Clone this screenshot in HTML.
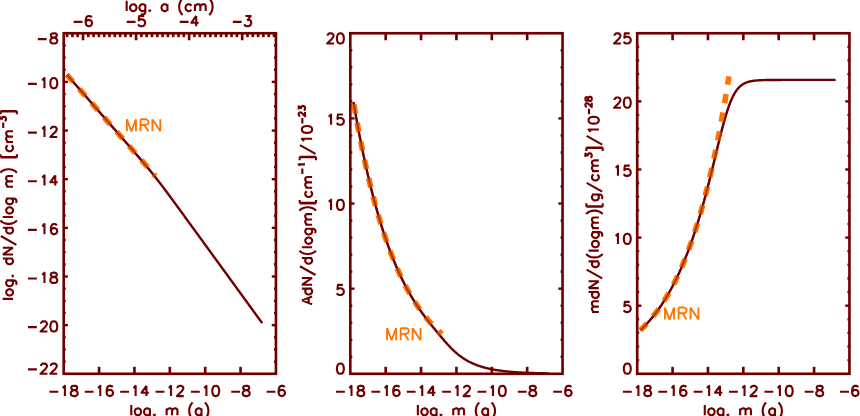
<!DOCTYPE html>
<html lang="en">
<head>
<meta charset="utf-8">
<title>Grain size distributions (MRN)</title>
<style>
html,body{margin:0;padding:0;background:#ffffff;}
body{width:860px;height:416px;overflow:hidden;font-family:"Liberation Sans",sans-serif;}
svg{display:block;}
</style>
</head>
<body>
<svg width="860" height="416" viewBox="0 0 860 416">
<rect x="0" y="0" width="860" height="416" fill="#ffffff"/>
<polyline points="66.88,74.68 67.37,75.24 67.86,75.80 68.35,76.36 68.84,76.92 69.32,77.48 69.81,78.04 70.30,78.60 70.79,79.16 71.28,79.72 71.77,80.28 72.25,80.84 72.74,81.40 73.23,81.96 73.72,82.52 74.21,83.08 74.69,83.64 75.18,84.19 75.67,84.75 76.16,85.31 76.65,85.87 77.14,86.43 77.62,86.99 78.11,87.55 78.60,88.11 79.09,88.67 79.58,89.23 80.06,89.79 80.55,90.35 81.04,90.91 81.53,91.47 82.02,92.03 82.51,92.59 82.99,93.15 83.48,93.71 83.97,94.27 84.46,94.82 84.95,95.38 85.43,95.94 85.92,96.50 86.41,97.06 86.90,97.62 87.39,98.18 87.88,98.74 88.36,99.30 88.85,99.86 89.34,100.42 89.83,100.98 90.32,101.54 90.80,102.10 91.29,102.66 91.78,103.22 92.27,103.78 92.76,104.34 93.25,104.90 93.73,105.45 94.22,106.01 94.71,106.57 95.20,107.13 95.69,107.69 96.17,108.25 96.66,108.81 97.15,109.37 97.64,109.93 98.13,110.49 98.62,111.05 99.10,111.61 99.59,112.17 100.08,112.73 100.57,113.29 101.06,113.85 101.54,114.41 102.03,114.97 102.52,115.53 103.01,116.09 103.50,116.64 103.99,117.20 104.47,117.76 104.96,118.32 105.45,118.88 105.94,119.44 106.43,120.00 106.91,120.56 107.40,121.12 107.89,121.68 108.38,122.24 108.87,122.80 109.35,123.36 109.84,123.92 110.33,124.48 110.82,125.04 111.31,125.60 111.80,126.16 112.28,126.72 112.77,127.28 113.26,127.84 113.75,128.40 114.24,128.96 114.72,129.52 115.21,130.08 115.70,130.64 116.19,131.19 116.68,131.75 117.17,132.31 117.65,132.87 118.14,133.43 118.63,133.99 119.12,134.55 119.61,135.11 120.09,135.67 120.58,136.23 121.07,136.79 121.56,137.35 122.05,137.91 122.54,138.47 123.02,139.04 123.51,139.60 124.00,140.16 124.49,140.72 124.98,141.28 125.46,141.84 125.95,142.40 126.44,142.96 126.93,143.52 127.42,144.08 127.91,144.64 128.39,145.20 128.88,145.77 129.37,146.33 129.86,146.89 130.35,147.45 130.83,148.01 131.32,148.58 131.81,149.14 132.30,149.70 132.79,150.26 133.28,150.83 133.76,151.39 134.25,151.96 134.74,152.52 135.23,153.08 135.72,153.65 136.20,154.22 136.69,154.78 137.18,155.35 137.67,155.91 138.16,156.48 138.65,157.05 139.13,157.62 139.62,158.19 140.11,158.76 140.60,159.33 141.09,159.90 141.57,160.47 142.06,161.04 142.55,161.62 143.04,162.19 143.53,162.77 144.02,163.35 144.50,163.92 144.99,164.50 145.48,165.08 145.97,165.67 146.46,166.25 146.94,166.83 147.43,167.42 147.92,168.01 148.41,168.60 148.90,169.19 149.39,169.78 149.87,170.37 150.36,170.97 150.85,171.57 151.34,172.17 151.83,172.77 152.31,173.37 152.80,173.98 153.29,174.59 153.78,175.20 154.27,175.81 154.76,176.42 155.24,177.04 155.73,177.66 156.22,178.28 156.71,178.90 157.20,179.52 157.68,180.15 158.17,180.78 158.66,181.41 159.15,182.04 159.64,182.67 160.13,183.31 160.61,183.95 161.10,184.59 161.59,185.23 162.08,185.87 162.57,186.51 163.05,187.16 163.54,187.81 164.03,188.46 164.52,189.11 165.01,189.76 165.50,190.41 165.98,191.06 166.47,191.72 166.96,192.37 167.45,193.03 167.94,193.69 168.42,194.34 168.91,195.00 169.40,195.66 169.89,196.32 170.38,196.99 170.87,197.65 171.35,198.31 171.84,198.97 172.33,199.64 172.82,200.30 173.31,200.97 173.79,201.63 174.28,202.30 174.77,202.96 175.26,203.63 175.75,204.30 176.23,204.96 176.72,205.63 177.21,206.30 177.70,206.97 178.19,207.63 178.68,208.30 179.16,208.97 179.65,209.64 180.14,210.31 180.63,210.98 181.12,211.65 181.60,212.32 182.09,212.99 182.58,213.66 183.07,214.32 183.56,214.99 184.05,215.66 184.53,216.33 185.02,217.01 185.51,217.68 186.00,218.35 186.49,219.02 186.97,219.69 187.46,220.36 187.95,221.03 188.44,221.70 188.93,222.37 189.42,223.04 189.90,223.71 190.39,224.38 190.88,225.05 191.37,225.72 191.86,226.39 192.34,227.07 192.83,227.74 193.32,228.41 193.81,229.08 194.30,229.75 194.79,230.42 195.27,231.09 195.76,231.76 196.25,232.43 196.74,233.11 197.23,233.78 197.71,234.45 198.20,235.12 198.69,235.79 199.18,236.46 199.67,237.13 200.16,237.80 200.64,238.47 201.13,239.15 201.62,239.82 202.11,240.49 202.60,241.16 203.08,241.83 203.57,242.50 204.06,243.17 204.55,243.85 205.04,244.52 205.53,245.19 206.01,245.86 206.50,246.53 206.99,247.20 207.48,247.87 207.97,248.54 208.45,249.22 208.94,249.89 209.43,250.56 209.92,251.23 210.41,251.90 210.90,252.57 211.38,253.24 211.87,253.92 212.36,254.59 212.85,255.26 213.34,255.93 213.82,256.60 214.31,257.27 214.80,257.94 215.29,258.61 215.78,259.29 216.27,259.96 216.75,260.63 217.24,261.30 217.73,261.97 218.22,262.64 218.71,263.31 219.19,263.99 219.68,264.66 220.17,265.33 220.66,266.00 221.15,266.67 221.64,267.34 222.12,268.01 222.61,268.69 223.10,269.36 223.59,270.03 224.08,270.70 224.56,271.37 225.05,272.04 225.54,272.71 226.03,273.38 226.52,274.06 227.01,274.73 227.49,275.40 227.98,276.07 228.47,276.74 228.96,277.41 229.45,278.08 229.93,278.76 230.42,279.43 230.91,280.10 231.40,280.77 231.89,281.44 232.38,282.11 232.86,282.78 233.35,283.46 233.84,284.13 234.33,284.80 234.82,285.47 235.30,286.14 235.79,286.81 236.28,287.48 236.77,288.15 237.26,288.83 237.74,289.50 238.23,290.17 238.72,290.84 239.21,291.51 239.70,292.18 240.19,292.85 240.67,293.53 241.16,294.20 241.65,294.87 242.14,295.54 242.63,296.21 243.11,296.88 243.60,297.55 244.09,298.23 244.58,298.90 245.07,299.57 245.56,300.24 246.04,300.91 246.53,301.58 247.02,302.25 247.51,302.93 248.00,303.60 248.48,304.27 248.97,304.94 249.46,305.61 249.95,306.28 250.44,306.95 250.93,307.62 251.41,308.30 251.90,308.97 252.39,309.64 252.88,310.31 253.37,310.98 253.85,311.65 254.34,312.32 254.83,313.00 255.32,313.67 255.81,314.34 256.30,315.01 256.78,315.68 257.27,316.35 257.76,317.02 258.25,317.70 258.74,318.37 259.22,319.04 259.71,319.71 260.20,320.38 260.69,321.05 261.18,321.72 261.67,322.39 262.15,323.07" fill="none" stroke="#700000" stroke-width="2.40" stroke-linejoin="round"/>
<polyline points="66.88,74.68 67.33,75.19 67.77,75.70 68.21,76.21 68.65,76.71 69.10,77.22 69.54,77.73 69.98,78.23 70.42,78.74 70.87,79.25 71.31,79.76 71.75,80.26 72.20,80.77 72.64,81.28 73.08,81.79 73.52,82.29 73.97,82.80 74.41,83.31 74.85,83.81 75.29,84.32 75.74,84.83 76.18,85.34 76.62,85.84 77.06,86.35 77.51,86.86 77.95,87.37 78.39,87.87 78.83,88.38 79.28,88.89 79.72,89.39 80.16,89.90 80.61,90.41 81.05,90.92 81.49,91.42 81.93,91.93 82.38,92.44 82.82,92.95 83.26,93.45 83.70,93.96 84.15,94.47 84.59,94.97 85.03,95.48 85.47,95.99 85.92,96.50 86.36,97.00 86.80,97.51 87.24,98.02 87.69,98.53 88.13,99.03 88.57,99.54 89.02,100.05 89.46,100.55 89.90,101.06 90.34,101.57 90.79,102.08 91.23,102.58 91.67,103.09 92.11,103.60 92.56,104.11 93.00,104.61 93.44,105.12 93.88,105.63 94.33,106.13 94.77,106.64 95.21,107.15 95.65,107.66 96.10,108.16 96.54,108.67 96.98,109.18 97.43,109.69 97.87,110.19 98.31,110.70 98.75,111.21 99.20,111.71 99.64,112.22 100.08,112.73 100.52,113.24 100.97,113.74 101.41,114.25 101.85,114.76 102.29,115.27 102.74,115.77 103.18,116.28 103.62,116.79 104.06,117.29 104.51,117.80 104.95,118.31 105.39,118.82 105.84,119.32 106.28,119.83 106.72,120.34 107.16,120.85 107.61,121.35 108.05,121.86 108.49,122.37 108.93,122.87 109.38,123.38 109.82,123.89 110.26,124.40 110.70,124.90 111.15,125.41 111.59,125.92 112.03,126.43 112.47,126.93 112.92,127.44 113.36,127.95 113.80,128.46 114.25,128.96 114.69,129.47 115.13,129.98 115.57,130.48 116.02,130.99 116.46,131.50 116.90,132.01 117.34,132.51 117.79,133.02 118.23,133.53 118.67,134.04 119.11,134.54 119.56,135.05 120.00,135.56 120.44,136.06 120.88,136.57 121.33,137.08 121.77,137.59 122.21,138.09 122.66,138.60 123.10,139.11 123.54,139.62 123.98,140.12 124.43,140.63 124.87,141.14 125.31,141.64 125.75,142.15 126.20,142.66 126.64,143.17 127.08,143.67 127.52,144.18 127.97,144.69 128.41,145.20 128.85,145.70 129.29,146.21 129.74,146.72 130.18,147.22 130.62,147.73 131.07,148.24 131.51,148.75 131.95,149.25 132.39,149.76 132.84,150.27 133.28,150.78 133.72,151.28 134.16,151.79 134.61,152.30 135.05,152.80 135.49,153.31 135.93,153.82 136.38,154.33 136.82,154.83 137.26,155.34 137.70,155.85 138.15,156.36 138.59,156.86 139.03,157.37 139.48,157.88 139.92,158.38 140.36,158.89 140.80,159.40 141.25,159.91 141.69,160.41 142.13,160.92 142.57,161.43 143.02,161.94 143.46,162.44 143.90,162.95 144.34,163.46 144.79,163.96 145.23,164.47 145.67,164.98 146.11,165.49 146.56,165.99 147.00,166.50 147.44,167.01 147.88,167.52 148.33,168.02 148.77,168.53 149.21,169.04 149.66,169.54 150.10,170.05 150.54,170.56 150.98,171.07 151.43,171.57 151.87,172.08 152.31,172.59 152.75,173.10 153.20,173.60 153.64,174.11 154.08,174.62 154.52,175.12 154.97,175.63 155.41,176.14" fill="none" stroke="#ff7400" stroke-width="5.60" stroke-dasharray="9.4 9.5" stroke-dashoffset="0"/>
<polyline points="66.88,74.68 67.37,75.24 67.86,75.80 68.35,76.36 68.84,76.92 69.32,77.48 69.81,78.04 70.30,78.60 70.79,79.16 71.28,79.72 71.77,80.28 72.25,80.84 72.74,81.40 73.23,81.96 73.72,82.52 74.21,83.08 74.69,83.64 75.18,84.19 75.67,84.75 76.16,85.31 76.65,85.87 77.14,86.43 77.62,86.99 78.11,87.55 78.60,88.11 79.09,88.67 79.58,89.23 80.06,89.79 80.55,90.35 81.04,90.91 81.53,91.47 82.02,92.03 82.51,92.59 82.99,93.15 83.48,93.71 83.97,94.27 84.46,94.82 84.95,95.38 85.43,95.94 85.92,96.50 86.41,97.06 86.90,97.62 87.39,98.18 87.88,98.74 88.36,99.30 88.85,99.86 89.34,100.42 89.83,100.98 90.32,101.54 90.80,102.10 91.29,102.66 91.78,103.22 92.27,103.78 92.76,104.34 93.25,104.90 93.73,105.45 94.22,106.01 94.71,106.57 95.20,107.13 95.69,107.69 96.17,108.25 96.66,108.81 97.15,109.37 97.64,109.93 98.13,110.49 98.62,111.05 99.10,111.61 99.59,112.17 100.08,112.73 100.57,113.29 101.06,113.85 101.54,114.41 102.03,114.97 102.52,115.53 103.01,116.09 103.50,116.64 103.99,117.20 104.47,117.76 104.96,118.32 105.45,118.88 105.94,119.44 106.43,120.00 106.91,120.56 107.40,121.12 107.89,121.68 108.38,122.24 108.87,122.80 109.35,123.36 109.84,123.92 110.33,124.48 110.82,125.04 111.31,125.60 111.80,126.16 112.28,126.72 112.77,127.28 113.26,127.84 113.75,128.40 114.24,128.96 114.72,129.52 115.21,130.08 115.70,130.64 116.19,131.19 116.68,131.75 117.17,132.31 117.65,132.87 118.14,133.43 118.63,133.99 119.12,134.55 119.61,135.11 120.09,135.67 120.58,136.23 121.07,136.79 121.56,137.35 122.05,137.91 122.54,138.47 123.02,139.04 123.51,139.60 124.00,140.16 124.49,140.72 124.98,141.28 125.46,141.84 125.95,142.40 126.44,142.96 126.93,143.52 127.42,144.08 127.91,144.64 128.39,145.20 128.88,145.77 129.37,146.33 129.86,146.89 130.35,147.45 130.83,148.01 131.32,148.58 131.81,149.14 132.30,149.70 132.79,150.26 133.28,150.83 133.76,151.39 134.25,151.96 134.74,152.52 135.23,153.08 135.72,153.65 136.20,154.22 136.69,154.78 137.18,155.35 137.67,155.91 138.16,156.48 138.65,157.05 139.13,157.62 139.62,158.19 140.11,158.76 140.60,159.33 141.09,159.90 141.57,160.47 142.06,161.04 142.55,161.62 143.04,162.19 143.53,162.77 144.02,163.35 144.50,163.92 144.99,164.50 145.48,165.08 145.97,165.67 146.46,166.25 146.94,166.83 147.43,167.42 147.92,168.01 148.41,168.60 148.90,169.19 149.39,169.78 149.87,170.37 150.36,170.97 150.85,171.57 151.34,172.17 151.83,172.77 152.31,173.37 152.80,173.98 153.29,174.59 153.78,175.20 154.27,175.81 154.76,176.42 155.24,177.04 155.73,177.66 156.22,178.28 156.71,178.90 157.20,179.52 157.68,180.15" fill="none" stroke="#700000" stroke-width="2.00" opacity="0.55"/>
<rect x="63.70" y="33.25" width="212.25" height="340.55" fill="none" stroke="#700000" stroke-width="2.65"/>
<g><title>-18</title><path d="M49.43 391.72 L58.27 391.72 M62.44 387.82 L63.42 387.33 L64.90 385.87 L64.90 396.10 M73.24 385.87 L71.77 386.36 L71.28 387.33 L71.28 388.31 L71.77 389.28 L72.75 389.77 L74.72 390.26 L76.19 390.74 L77.17 391.72 L77.66 392.69 L77.66 394.15 L77.17 395.13 L76.68 395.61 L75.21 396.10 L73.24 396.10 L71.77 395.61 L71.28 395.13 L70.79 394.15 L70.79 392.69 L71.28 391.72 L72.26 390.74 L73.73 390.26 L75.70 389.77 L76.68 389.28 L77.17 388.31 L77.17 387.33 L76.68 386.36 L75.21 385.87 L73.24 385.87" fill="none" stroke="#700000" stroke-width="2.12" stroke-linecap="butt" stroke-linejoin="round"/></g>
<line x1="99.08" y1="373.80" x2="99.08" y2="366.80" stroke="#700000" stroke-width="2.65" stroke-linecap="butt"/>
<g><title>-16</title><path d="M84.80 391.72 L93.64 391.72 M97.82 387.82 L98.80 387.33 L100.27 385.87 L100.27 396.10 M112.55 387.33 L112.05 386.36 L110.58 385.87 L109.60 385.87 L108.13 386.36 L107.14 387.82 L106.65 390.26 L106.65 392.69 L107.14 394.64 L108.13 395.61 L109.60 396.10 L110.09 396.10 L111.56 395.61 L112.55 394.64 L113.04 393.18 L113.04 392.69 L112.55 391.23 L111.56 390.26 L110.09 389.77 L109.60 389.77 L108.13 390.26 L107.14 391.23 L106.65 392.69" fill="none" stroke="#700000" stroke-width="2.12" stroke-linecap="butt" stroke-linejoin="round"/></g>
<line x1="134.45" y1="373.80" x2="134.45" y2="366.80" stroke="#700000" stroke-width="2.65" stroke-linecap="butt"/>
<g><title>-14</title><path d="M120.18 391.72 L129.02 391.72 M133.19 387.82 L134.17 387.33 L135.65 385.87 L135.65 396.10 M146.45 385.87 L141.54 392.69 L148.90 392.69 M146.45 385.87 L146.45 396.10" fill="none" stroke="#700000" stroke-width="2.12" stroke-linecap="butt" stroke-linejoin="round"/></g>
<line x1="169.82" y1="373.80" x2="169.82" y2="366.80" stroke="#700000" stroke-width="2.65" stroke-linecap="butt"/>
<g><title>-12</title><path d="M155.55 391.72 L164.39 391.72 M168.57 387.82 L169.55 387.33 L171.02 385.87 L171.02 396.10 M177.40 388.31 L177.40 387.82 L177.89 386.85 L178.39 386.36 L179.37 385.87 L181.33 385.87 L182.31 386.36 L182.80 386.85 L183.30 387.82 L183.30 388.80 L182.80 389.77 L181.82 391.23 L176.91 396.10 L183.79 396.10" fill="none" stroke="#700000" stroke-width="2.12" stroke-linecap="butt" stroke-linejoin="round"/></g>
<line x1="205.20" y1="373.80" x2="205.20" y2="366.80" stroke="#700000" stroke-width="2.65" stroke-linecap="butt"/>
<g><title>-10</title><path d="M190.93 391.72 L199.77 391.72 M203.94 387.82 L204.92 387.33 L206.40 385.87 L206.40 396.10 M215.23 385.87 L213.76 386.36 L212.78 387.82 L212.29 390.26 L212.29 391.72 L212.78 394.15 L213.76 395.61 L215.23 396.10 L216.22 396.10 L217.69 395.61 L218.67 394.15 L219.16 391.72 L219.16 390.26 L218.67 387.82 L217.69 386.36 L216.22 385.87 L215.23 385.87" fill="none" stroke="#700000" stroke-width="2.12" stroke-linecap="butt" stroke-linejoin="round"/></g>
<line x1="240.57" y1="373.80" x2="240.57" y2="366.80" stroke="#700000" stroke-width="2.65" stroke-linecap="butt"/>
<g><title>-8</title><path d="M231.21 391.72 L240.05 391.72 M245.21 385.87 L243.73 386.36 L243.24 387.33 L243.24 388.31 L243.73 389.28 L244.72 389.77 L246.68 390.26 L248.15 390.74 L249.14 391.72 L249.63 392.69 L249.63 394.15 L249.14 395.13 L248.64 395.61 L247.17 396.10 L245.21 396.10 L243.73 395.61 L243.24 395.13 L242.75 394.15 L242.75 392.69 L243.24 391.72 L244.23 390.74 L245.70 390.26 L247.66 389.77 L248.64 389.28 L249.14 388.31 L249.14 387.33 L248.64 386.36 L247.17 385.87 L245.21 385.87" fill="none" stroke="#700000" stroke-width="2.12" stroke-linecap="butt" stroke-linejoin="round"/></g>
<g><title>-6</title><path d="M266.59 391.72 L275.43 391.72 M284.51 387.33 L284.02 386.36 L282.55 385.87 L281.56 385.87 L280.09 386.36 L279.11 387.82 L278.62 390.26 L278.62 392.69 L279.11 394.64 L280.09 395.61 L281.56 396.10 L282.06 396.10 L283.53 395.61 L284.51 394.64 L285.00 393.18 L285.00 392.69 L284.51 391.23 L283.53 390.26 L282.06 389.77 L281.56 389.77 L280.09 390.26 L279.11 391.23 L278.62 392.69" fill="none" stroke="#700000" stroke-width="2.12" stroke-linecap="butt" stroke-linejoin="round"/></g>
<g><title>log. m (g)</title><path d="M131.28 404.97 L131.28 415.20 M137.17 408.38 L136.19 408.87 L135.21 409.84 L134.72 411.30 L134.72 412.28 L135.21 413.74 L136.19 414.71 L137.17 415.20 L138.65 415.20 L139.63 414.71 L140.61 413.74 L141.10 412.28 L141.10 411.30 L140.61 409.84 L139.63 408.87 L138.65 408.38 L137.17 408.38 M149.94 408.38 L149.94 416.17 L149.45 417.63 L148.96 418.12 L147.98 418.61 L146.50 418.61 L145.52 418.12 M149.94 409.84 L148.96 408.87 L147.98 408.38 L146.50 408.38 L145.52 408.87 L144.54 409.84 L144.05 411.30 L144.05 412.28 L144.54 413.74 L145.52 414.71 L146.50 415.20 L147.98 415.20 L148.96 414.71 L149.94 413.74 M154.36 414.23 L153.87 414.71 L154.36 415.20 L154.85 414.71 L154.36 414.23 M166.63 408.38 L166.63 415.20 M166.63 410.33 L168.11 408.87 L169.09 408.38 L170.56 408.38 L171.54 408.87 L172.03 410.33 L172.03 415.20 M172.03 410.33 L173.51 408.87 L174.49 408.38 L175.96 408.38 L176.94 408.87 L177.44 410.33 L177.44 415.20 M192.66 402.54 L191.67 403.51 L190.69 404.97 L189.71 407.16 L189.22 409.84 L189.22 411.79 L189.71 414.47 L190.69 416.66 L191.67 418.12 L192.66 419.10 M201.49 408.38 L201.49 416.17 L201.00 417.63 L200.51 418.12 L199.53 418.61 L198.06 418.61 L197.08 418.12 M201.49 409.84 L200.51 408.87 L199.53 408.38 L198.06 408.38 L197.08 408.87 L196.09 409.84 L195.60 411.30 L195.60 412.28 L196.09 413.74 L197.08 414.71 L198.06 415.20 L199.53 415.20 L200.51 414.71 L201.49 413.74 M204.93 402.54 L205.91 403.51 L206.90 404.97 L207.88 407.16 L208.37 409.84 L208.37 411.79 L207.88 414.47 L206.90 416.66 L205.91 418.12 L204.93 419.10" fill="none" stroke="#700000" stroke-width="2.12" stroke-linecap="butt" stroke-linejoin="round"/></g>
<line x1="67.08" y1="33.25" x2="67.08" y2="37.15" stroke="#700000" stroke-width="2.65" stroke-linecap="butt"/>
<line x1="72.39" y1="33.25" x2="72.39" y2="37.15" stroke="#700000" stroke-width="2.65" stroke-linecap="butt"/>
<line x1="77.69" y1="33.25" x2="77.69" y2="37.15" stroke="#700000" stroke-width="2.65" stroke-linecap="butt"/>
<line x1="83.00" y1="33.25" x2="83.00" y2="40.25" stroke="#700000" stroke-width="2.65" stroke-linecap="butt"/>
<g><title>-6</title><path d="M73.64 21.82 L82.48 21.82 M91.56 17.43 L91.07 16.46 L89.60 15.97 L88.61 15.97 L87.14 16.46 L86.16 17.92 L85.67 20.36 L85.67 22.79 L86.16 24.74 L87.14 25.71 L88.61 26.20 L89.11 26.20 L90.58 25.71 L91.56 24.74 L92.05 23.28 L92.05 22.79 L91.56 21.33 L90.58 20.36 L89.11 19.87 L88.61 19.87 L87.14 20.36 L86.16 21.33 L85.67 22.79" fill="none" stroke="#700000" stroke-width="2.12" stroke-linecap="butt" stroke-linejoin="round"/></g>
<line x1="88.31" y1="33.25" x2="88.31" y2="37.15" stroke="#700000" stroke-width="2.65" stroke-linecap="butt"/>
<line x1="93.61" y1="33.25" x2="93.61" y2="37.15" stroke="#700000" stroke-width="2.65" stroke-linecap="butt"/>
<line x1="98.92" y1="33.25" x2="98.92" y2="37.15" stroke="#700000" stroke-width="2.65" stroke-linecap="butt"/>
<line x1="104.23" y1="33.25" x2="104.23" y2="37.15" stroke="#700000" stroke-width="2.65" stroke-linecap="butt"/>
<line x1="109.53" y1="33.25" x2="109.53" y2="37.15" stroke="#700000" stroke-width="2.65" stroke-linecap="butt"/>
<line x1="114.84" y1="33.25" x2="114.84" y2="37.15" stroke="#700000" stroke-width="2.65" stroke-linecap="butt"/>
<line x1="120.14" y1="33.25" x2="120.14" y2="37.15" stroke="#700000" stroke-width="2.65" stroke-linecap="butt"/>
<line x1="125.45" y1="33.25" x2="125.45" y2="37.15" stroke="#700000" stroke-width="2.65" stroke-linecap="butt"/>
<line x1="130.76" y1="33.25" x2="130.76" y2="37.15" stroke="#700000" stroke-width="2.65" stroke-linecap="butt"/>
<line x1="136.06" y1="33.25" x2="136.06" y2="40.25" stroke="#700000" stroke-width="2.65" stroke-linecap="butt"/>
<g><title>-5</title><path d="M126.70 21.82 L135.54 21.82 M144.13 15.97 L139.22 15.97 L138.73 20.36 L139.22 19.87 L140.70 19.38 L142.17 19.38 L143.64 19.87 L144.62 20.84 L145.11 22.30 L145.11 23.28 L144.62 24.74 L143.64 25.71 L142.17 26.20 L140.70 26.20 L139.22 25.71 L138.73 25.23 L138.24 24.25" fill="none" stroke="#700000" stroke-width="2.12" stroke-linecap="butt" stroke-linejoin="round"/></g>
<line x1="141.37" y1="33.25" x2="141.37" y2="37.15" stroke="#700000" stroke-width="2.65" stroke-linecap="butt"/>
<line x1="146.68" y1="33.25" x2="146.68" y2="37.15" stroke="#700000" stroke-width="2.65" stroke-linecap="butt"/>
<line x1="151.98" y1="33.25" x2="151.98" y2="37.15" stroke="#700000" stroke-width="2.65" stroke-linecap="butt"/>
<line x1="157.29" y1="33.25" x2="157.29" y2="37.15" stroke="#700000" stroke-width="2.65" stroke-linecap="butt"/>
<line x1="162.59" y1="33.25" x2="162.59" y2="37.15" stroke="#700000" stroke-width="2.65" stroke-linecap="butt"/>
<line x1="167.90" y1="33.25" x2="167.90" y2="37.15" stroke="#700000" stroke-width="2.65" stroke-linecap="butt"/>
<line x1="173.21" y1="33.25" x2="173.21" y2="37.15" stroke="#700000" stroke-width="2.65" stroke-linecap="butt"/>
<line x1="178.51" y1="33.25" x2="178.51" y2="37.15" stroke="#700000" stroke-width="2.65" stroke-linecap="butt"/>
<line x1="183.82" y1="33.25" x2="183.82" y2="37.15" stroke="#700000" stroke-width="2.65" stroke-linecap="butt"/>
<line x1="189.12" y1="33.25" x2="189.12" y2="40.25" stroke="#700000" stroke-width="2.65" stroke-linecap="butt"/>
<g><title>-4</title><path d="M179.76 21.82 L188.60 21.82 M196.21 15.97 L191.30 22.79 L198.67 22.79 M196.21 15.97 L196.21 26.20" fill="none" stroke="#700000" stroke-width="2.12" stroke-linecap="butt" stroke-linejoin="round"/></g>
<line x1="194.43" y1="33.25" x2="194.43" y2="37.15" stroke="#700000" stroke-width="2.65" stroke-linecap="butt"/>
<line x1="199.74" y1="33.25" x2="199.74" y2="37.15" stroke="#700000" stroke-width="2.65" stroke-linecap="butt"/>
<line x1="205.04" y1="33.25" x2="205.04" y2="37.15" stroke="#700000" stroke-width="2.65" stroke-linecap="butt"/>
<line x1="210.35" y1="33.25" x2="210.35" y2="37.15" stroke="#700000" stroke-width="2.65" stroke-linecap="butt"/>
<line x1="215.66" y1="33.25" x2="215.66" y2="37.15" stroke="#700000" stroke-width="2.65" stroke-linecap="butt"/>
<line x1="220.96" y1="33.25" x2="220.96" y2="37.15" stroke="#700000" stroke-width="2.65" stroke-linecap="butt"/>
<line x1="226.27" y1="33.25" x2="226.27" y2="37.15" stroke="#700000" stroke-width="2.65" stroke-linecap="butt"/>
<line x1="231.57" y1="33.25" x2="231.57" y2="37.15" stroke="#700000" stroke-width="2.65" stroke-linecap="butt"/>
<line x1="236.88" y1="33.25" x2="236.88" y2="37.15" stroke="#700000" stroke-width="2.65" stroke-linecap="butt"/>
<line x1="242.19" y1="33.25" x2="242.19" y2="40.25" stroke="#700000" stroke-width="2.65" stroke-linecap="butt"/>
<g><title>-3</title><path d="M232.83 21.82 L241.66 21.82 M245.35 15.97 L250.75 15.97 L247.80 19.87 L249.28 19.87 L250.26 20.36 L250.75 20.84 L251.24 22.30 L251.24 23.28 L250.75 24.74 L249.77 25.71 L248.29 26.20 L246.82 26.20 L245.35 25.71 L244.86 25.23 L244.37 24.25" fill="none" stroke="#700000" stroke-width="2.12" stroke-linecap="butt" stroke-linejoin="round"/></g>
<line x1="247.49" y1="33.25" x2="247.49" y2="37.15" stroke="#700000" stroke-width="2.65" stroke-linecap="butt"/>
<line x1="252.80" y1="33.25" x2="252.80" y2="37.15" stroke="#700000" stroke-width="2.65" stroke-linecap="butt"/>
<line x1="258.11" y1="33.25" x2="258.11" y2="37.15" stroke="#700000" stroke-width="2.65" stroke-linecap="butt"/>
<line x1="263.41" y1="33.25" x2="263.41" y2="37.15" stroke="#700000" stroke-width="2.65" stroke-linecap="butt"/>
<line x1="268.72" y1="33.25" x2="268.72" y2="37.15" stroke="#700000" stroke-width="2.65" stroke-linecap="butt"/>
<line x1="274.02" y1="33.25" x2="274.02" y2="37.15" stroke="#700000" stroke-width="2.65" stroke-linecap="butt"/>
<g><title>log. a (cm)</title><path d="M126.66 0.87 L126.66 11.10 M132.55 4.28 L131.57 4.77 L130.59 5.74 L130.10 7.20 L130.10 8.18 L130.59 9.64 L131.57 10.61 L132.55 11.10 L134.03 11.10 L135.01 10.61 L135.99 9.64 L136.48 8.18 L136.48 7.20 L135.99 5.74 L135.01 4.77 L134.03 4.28 L132.55 4.28 M145.32 4.28 L145.32 12.07 L144.83 13.54 L144.34 14.02 L143.36 14.51 L141.88 14.51 L140.90 14.02 M145.32 5.74 L144.34 4.77 L143.36 4.28 L141.88 4.28 L140.90 4.77 L139.92 5.74 L139.43 7.20 L139.43 8.18 L139.92 9.64 L140.90 10.61 L141.88 11.10 L143.36 11.10 L144.34 10.61 L145.32 9.64 M149.74 10.13 L149.25 10.61 L149.74 11.10 L150.23 10.61 L149.74 10.13 M167.42 4.28 L167.42 11.10 M167.42 5.74 L166.43 4.77 L165.45 4.28 L163.98 4.28 L163.00 4.77 L162.01 5.74 L161.52 7.20 L161.52 8.18 L162.01 9.64 L163.00 10.61 L163.98 11.10 L165.45 11.10 L166.43 10.61 L167.42 9.64 M182.64 -1.56 L181.65 -0.59 L180.67 0.87 L179.69 3.06 L179.20 5.74 L179.20 7.69 L179.69 10.37 L180.67 12.56 L181.65 14.02 L182.64 15.00 M191.47 5.74 L190.49 4.77 L189.51 4.28 L188.04 4.28 L187.06 4.77 L186.07 5.74 L185.58 7.20 L185.58 8.18 L186.07 9.64 L187.06 10.61 L188.04 11.10 L189.51 11.10 L190.49 10.61 L191.47 9.64 M194.91 4.28 L194.91 11.10 M194.91 6.23 L196.38 4.77 L197.37 4.28 L198.84 4.28 L199.82 4.77 L200.31 6.23 L200.31 11.10 M200.31 6.23 L201.79 4.77 L202.77 4.28 L204.24 4.28 L205.22 4.77 L205.71 6.23 L205.71 11.10 M209.15 -1.56 L210.13 -0.59 L211.11 0.87 L212.10 3.06 L212.59 5.74 L212.59 7.69 L212.10 10.37 L211.11 12.56 L210.13 14.02 L209.15 15.00" fill="none" stroke="#700000" stroke-width="2.12" stroke-linecap="butt" stroke-linejoin="round"/></g>
<line x1="63.70" y1="361.64" x2="65.70" y2="361.64" stroke="#700000" stroke-width="2.40" stroke-linecap="butt"/>
<line x1="275.95" y1="361.64" x2="273.95" y2="361.64" stroke="#700000" stroke-width="2.40" stroke-linecap="butt"/>
<line x1="63.70" y1="349.48" x2="65.70" y2="349.48" stroke="#700000" stroke-width="2.40" stroke-linecap="butt"/>
<line x1="275.95" y1="349.48" x2="273.95" y2="349.48" stroke="#700000" stroke-width="2.40" stroke-linecap="butt"/>
<line x1="63.70" y1="337.31" x2="65.70" y2="337.31" stroke="#700000" stroke-width="2.40" stroke-linecap="butt"/>
<line x1="275.95" y1="337.31" x2="273.95" y2="337.31" stroke="#700000" stroke-width="2.40" stroke-linecap="butt"/>
<line x1="63.70" y1="325.15" x2="67.90" y2="325.15" stroke="#700000" stroke-width="2.40" stroke-linecap="butt"/>
<line x1="275.95" y1="325.15" x2="271.75" y2="325.15" stroke="#700000" stroke-width="2.40" stroke-linecap="butt"/>
<line x1="63.70" y1="312.99" x2="65.70" y2="312.99" stroke="#700000" stroke-width="2.40" stroke-linecap="butt"/>
<line x1="275.95" y1="312.99" x2="273.95" y2="312.99" stroke="#700000" stroke-width="2.40" stroke-linecap="butt"/>
<line x1="63.70" y1="300.83" x2="65.70" y2="300.83" stroke="#700000" stroke-width="2.40" stroke-linecap="butt"/>
<line x1="275.95" y1="300.83" x2="273.95" y2="300.83" stroke="#700000" stroke-width="2.40" stroke-linecap="butt"/>
<line x1="63.70" y1="288.66" x2="65.70" y2="288.66" stroke="#700000" stroke-width="2.40" stroke-linecap="butt"/>
<line x1="275.95" y1="288.66" x2="273.95" y2="288.66" stroke="#700000" stroke-width="2.40" stroke-linecap="butt"/>
<line x1="63.70" y1="276.50" x2="67.90" y2="276.50" stroke="#700000" stroke-width="2.40" stroke-linecap="butt"/>
<line x1="275.95" y1="276.50" x2="271.75" y2="276.50" stroke="#700000" stroke-width="2.40" stroke-linecap="butt"/>
<line x1="63.70" y1="264.34" x2="65.70" y2="264.34" stroke="#700000" stroke-width="2.40" stroke-linecap="butt"/>
<line x1="275.95" y1="264.34" x2="273.95" y2="264.34" stroke="#700000" stroke-width="2.40" stroke-linecap="butt"/>
<line x1="63.70" y1="252.18" x2="65.70" y2="252.18" stroke="#700000" stroke-width="2.40" stroke-linecap="butt"/>
<line x1="275.95" y1="252.18" x2="273.95" y2="252.18" stroke="#700000" stroke-width="2.40" stroke-linecap="butt"/>
<line x1="63.70" y1="240.01" x2="65.70" y2="240.01" stroke="#700000" stroke-width="2.40" stroke-linecap="butt"/>
<line x1="275.95" y1="240.01" x2="273.95" y2="240.01" stroke="#700000" stroke-width="2.40" stroke-linecap="butt"/>
<line x1="63.70" y1="227.85" x2="67.90" y2="227.85" stroke="#700000" stroke-width="2.40" stroke-linecap="butt"/>
<line x1="275.95" y1="227.85" x2="271.75" y2="227.85" stroke="#700000" stroke-width="2.40" stroke-linecap="butt"/>
<line x1="63.70" y1="215.69" x2="65.70" y2="215.69" stroke="#700000" stroke-width="2.40" stroke-linecap="butt"/>
<line x1="275.95" y1="215.69" x2="273.95" y2="215.69" stroke="#700000" stroke-width="2.40" stroke-linecap="butt"/>
<line x1="63.70" y1="203.53" x2="65.70" y2="203.53" stroke="#700000" stroke-width="2.40" stroke-linecap="butt"/>
<line x1="275.95" y1="203.53" x2="273.95" y2="203.53" stroke="#700000" stroke-width="2.40" stroke-linecap="butt"/>
<line x1="63.70" y1="191.36" x2="65.70" y2="191.36" stroke="#700000" stroke-width="2.40" stroke-linecap="butt"/>
<line x1="275.95" y1="191.36" x2="273.95" y2="191.36" stroke="#700000" stroke-width="2.40" stroke-linecap="butt"/>
<line x1="63.70" y1="179.20" x2="67.90" y2="179.20" stroke="#700000" stroke-width="2.40" stroke-linecap="butt"/>
<line x1="275.95" y1="179.20" x2="271.75" y2="179.20" stroke="#700000" stroke-width="2.40" stroke-linecap="butt"/>
<line x1="63.70" y1="167.04" x2="65.70" y2="167.04" stroke="#700000" stroke-width="2.40" stroke-linecap="butt"/>
<line x1="275.95" y1="167.04" x2="273.95" y2="167.04" stroke="#700000" stroke-width="2.40" stroke-linecap="butt"/>
<line x1="63.70" y1="154.88" x2="65.70" y2="154.88" stroke="#700000" stroke-width="2.40" stroke-linecap="butt"/>
<line x1="275.95" y1="154.88" x2="273.95" y2="154.88" stroke="#700000" stroke-width="2.40" stroke-linecap="butt"/>
<line x1="63.70" y1="142.71" x2="65.70" y2="142.71" stroke="#700000" stroke-width="2.40" stroke-linecap="butt"/>
<line x1="275.95" y1="142.71" x2="273.95" y2="142.71" stroke="#700000" stroke-width="2.40" stroke-linecap="butt"/>
<line x1="63.70" y1="130.55" x2="67.90" y2="130.55" stroke="#700000" stroke-width="2.40" stroke-linecap="butt"/>
<line x1="275.95" y1="130.55" x2="271.75" y2="130.55" stroke="#700000" stroke-width="2.40" stroke-linecap="butt"/>
<line x1="63.70" y1="118.39" x2="65.70" y2="118.39" stroke="#700000" stroke-width="2.40" stroke-linecap="butt"/>
<line x1="275.95" y1="118.39" x2="273.95" y2="118.39" stroke="#700000" stroke-width="2.40" stroke-linecap="butt"/>
<line x1="63.70" y1="106.23" x2="65.70" y2="106.23" stroke="#700000" stroke-width="2.40" stroke-linecap="butt"/>
<line x1="275.95" y1="106.23" x2="273.95" y2="106.23" stroke="#700000" stroke-width="2.40" stroke-linecap="butt"/>
<line x1="63.70" y1="94.06" x2="65.70" y2="94.06" stroke="#700000" stroke-width="2.40" stroke-linecap="butt"/>
<line x1="275.95" y1="94.06" x2="273.95" y2="94.06" stroke="#700000" stroke-width="2.40" stroke-linecap="butt"/>
<line x1="63.70" y1="81.90" x2="67.90" y2="81.90" stroke="#700000" stroke-width="2.40" stroke-linecap="butt"/>
<line x1="275.95" y1="81.90" x2="271.75" y2="81.90" stroke="#700000" stroke-width="2.40" stroke-linecap="butt"/>
<line x1="63.70" y1="69.74" x2="65.70" y2="69.74" stroke="#700000" stroke-width="2.40" stroke-linecap="butt"/>
<line x1="275.95" y1="69.74" x2="273.95" y2="69.74" stroke="#700000" stroke-width="2.40" stroke-linecap="butt"/>
<line x1="63.70" y1="57.58" x2="65.70" y2="57.58" stroke="#700000" stroke-width="2.40" stroke-linecap="butt"/>
<line x1="275.95" y1="57.58" x2="273.95" y2="57.58" stroke="#700000" stroke-width="2.40" stroke-linecap="butt"/>
<line x1="63.70" y1="45.41" x2="65.70" y2="45.41" stroke="#700000" stroke-width="2.40" stroke-linecap="butt"/>
<line x1="275.95" y1="45.41" x2="273.95" y2="45.41" stroke="#700000" stroke-width="2.40" stroke-linecap="butt"/>
<g><title>-8</title><path d="M37.83 39.17 L46.67 39.17 M52.81 33.32 L51.34 33.81 L50.84 34.78 L50.84 35.76 L51.34 36.73 L52.32 37.22 L54.28 37.71 L55.75 38.19 L56.74 39.17 L57.23 40.14 L57.23 41.60 L56.74 42.58 L56.25 43.06 L54.77 43.55 L52.81 43.55 L51.34 43.06 L50.84 42.58 L50.35 41.60 L50.35 40.14 L50.84 39.17 L51.83 38.19 L53.30 37.71 L55.26 37.22 L56.25 36.73 L56.74 35.76 L56.74 34.78 L56.25 33.81 L54.77 33.32 L52.81 33.32" fill="none" stroke="#700000" stroke-width="2.12" stroke-linecap="butt" stroke-linejoin="round"/></g>
<g><title>-10</title><path d="M28.01 83.92 L36.85 83.92 M42.01 80.02 L42.99 79.53 L44.46 78.07 L44.46 88.30 M53.30 78.07 L51.83 78.56 L50.84 80.02 L50.35 82.46 L50.35 83.92 L50.84 86.35 L51.83 87.81 L53.30 88.30 L54.28 88.30 L55.75 87.81 L56.74 86.35 L57.23 83.92 L57.23 82.46 L56.74 80.02 L55.75 78.56 L54.28 78.07 L53.30 78.07" fill="none" stroke="#700000" stroke-width="2.12" stroke-linecap="butt" stroke-linejoin="round"/></g>
<g><title>-12</title><path d="M28.01 132.57 L36.85 132.57 M42.01 128.67 L42.99 128.18 L44.46 126.72 L44.46 136.95 M50.84 129.16 L50.84 128.67 L51.34 127.70 L51.83 127.21 L52.81 126.72 L54.77 126.72 L55.75 127.21 L56.25 127.70 L56.74 128.67 L56.74 129.65 L56.25 130.62 L55.26 132.08 L50.35 136.95 L57.23 136.95" fill="none" stroke="#700000" stroke-width="2.12" stroke-linecap="butt" stroke-linejoin="round"/></g>
<g><title>-14</title><path d="M28.01 181.22 L36.85 181.22 M42.01 177.32 L42.99 176.83 L44.46 175.37 L44.46 185.60 M55.26 175.37 L50.35 182.19 L57.72 182.19 M55.26 175.37 L55.26 185.60" fill="none" stroke="#700000" stroke-width="2.12" stroke-linecap="butt" stroke-linejoin="round"/></g>
<g><title>-16</title><path d="M28.01 229.87 L36.85 229.87 M42.01 225.97 L42.99 225.48 L44.46 224.02 L44.46 234.25 M56.74 225.48 L56.25 224.51 L54.77 224.02 L53.79 224.02 L52.32 224.51 L51.34 225.97 L50.84 228.41 L50.84 230.84 L51.34 232.79 L52.32 233.76 L53.79 234.25 L54.28 234.25 L55.75 233.76 L56.74 232.79 L57.23 231.33 L57.23 230.84 L56.74 229.38 L55.75 228.41 L54.28 227.92 L53.79 227.92 L52.32 228.41 L51.34 229.38 L50.84 230.84" fill="none" stroke="#700000" stroke-width="2.12" stroke-linecap="butt" stroke-linejoin="round"/></g>
<g><title>-18</title><path d="M28.01 278.52 L36.85 278.52 M42.01 274.62 L42.99 274.13 L44.46 272.67 L44.46 282.90 M52.81 272.67 L51.34 273.16 L50.84 274.13 L50.84 275.11 L51.34 276.08 L52.32 276.57 L54.28 277.06 L55.75 277.54 L56.74 278.52 L57.23 279.49 L57.23 280.95 L56.74 281.93 L56.25 282.41 L54.77 282.90 L52.81 282.90 L51.34 282.41 L50.84 281.93 L50.35 280.95 L50.35 279.49 L50.84 278.52 L51.83 277.54 L53.30 277.06 L55.26 276.57 L56.25 276.08 L56.74 275.11 L56.74 274.13 L56.25 273.16 L54.77 272.67 L52.81 272.67" fill="none" stroke="#700000" stroke-width="2.12" stroke-linecap="butt" stroke-linejoin="round"/></g>
<g><title>-20</title><path d="M28.01 327.17 L36.85 327.17 M41.02 323.76 L41.02 323.27 L41.52 322.30 L42.01 321.81 L42.99 321.32 L44.95 321.32 L45.93 321.81 L46.43 322.30 L46.92 323.27 L46.92 324.25 L46.43 325.22 L45.44 326.68 L40.53 331.55 L47.41 331.55 M53.30 321.32 L51.83 321.81 L50.84 323.27 L50.35 325.71 L50.35 327.17 L50.84 329.60 L51.83 331.06 L53.30 331.55 L54.28 331.55 L55.75 331.06 L56.74 329.60 L57.23 327.17 L57.23 325.71 L56.74 323.27 L55.75 321.81 L54.28 321.32 L53.30 321.32" fill="none" stroke="#700000" stroke-width="2.12" stroke-linecap="butt" stroke-linejoin="round"/></g>
<g><title>-22</title><path d="M28.01 369.42 L36.85 369.42 M41.02 366.01 L41.02 365.52 L41.52 364.55 L42.01 364.06 L42.99 363.57 L44.95 363.57 L45.93 364.06 L46.43 364.55 L46.92 365.52 L46.92 366.50 L46.43 367.47 L45.44 368.93 L40.53 373.80 L47.41 373.80 M50.84 366.01 L50.84 365.52 L51.34 364.55 L51.83 364.06 L52.81 363.57 L54.77 363.57 L55.75 364.06 L56.25 364.55 L56.74 365.52 L56.74 366.50 L56.25 367.47 L55.26 368.93 L50.35 373.80 L57.23 373.80" fill="none" stroke="#700000" stroke-width="2.12" stroke-linecap="butt" stroke-linejoin="round"/></g>
<g><title>log. dN/d(log m) [cm-3]</title><path d="M2.77 298.91 L13.00 298.91 M6.18 293.06 L6.67 294.04 L7.64 295.01 L9.10 295.50 L10.08 295.50 L11.54 295.01 L12.51 294.04 L13.00 293.06 L13.00 291.60 L12.51 290.63 L11.54 289.65 L10.08 289.16 L9.10 289.16 L7.64 289.65 L6.67 290.63 L6.18 291.60 L6.18 293.06 M6.18 280.39 L13.97 280.39 L15.44 280.88 L15.92 281.36 L16.41 282.34 L16.41 283.80 L15.92 284.78 M7.64 280.39 L6.67 281.36 L6.18 282.34 L6.18 283.80 L6.67 284.78 L7.64 285.75 L9.10 286.24 L10.08 286.24 L11.54 285.75 L12.51 284.78 L13.00 283.80 L13.00 282.34 L12.51 281.36 L11.54 280.39 M12.03 276.00 L12.51 276.49 L13.00 276.00 L12.51 275.51 L12.03 276.00 M2.77 258.45 L13.00 258.45 M7.64 258.45 L6.67 259.43 L6.18 260.40 L6.18 261.86 L6.67 262.84 L7.64 263.81 L9.10 264.30 L10.08 264.30 L11.54 263.81 L12.51 262.84 L13.00 261.86 L13.00 260.40 L12.51 259.43 L11.54 258.45 M2.77 254.55 L13.00 254.55 M2.77 254.55 L13.00 247.73 M2.77 247.73 L13.00 247.73 M0.83 236.03 L16.41 244.80 M2.77 227.74 L13.00 227.74 M7.64 227.74 L6.67 228.71 L6.18 229.69 L6.18 231.15 L6.67 232.13 L7.64 233.10 L9.10 233.59 L10.08 233.59 L11.54 233.10 L12.51 232.13 L13.00 231.15 L13.00 229.69 L12.51 228.71 L11.54 227.74 M0.34 220.43 L1.31 221.40 L2.77 222.38 L4.96 223.35 L7.64 223.84 L9.59 223.84 L12.27 223.35 L14.46 222.38 L15.92 221.40 L16.90 220.43 M2.77 217.01 L13.00 217.01 M6.18 211.16 L6.67 212.14 L7.64 213.11 L9.10 213.60 L10.08 213.60 L11.54 213.11 L12.51 212.14 L13.00 211.16 L13.00 209.70 L12.51 208.73 L11.54 207.75 L10.08 207.26 L9.10 207.26 L7.64 207.75 L6.67 208.73 L6.18 209.70 L6.18 211.16 M6.18 198.49 L13.97 198.49 L15.44 198.98 L15.92 199.46 L16.41 200.44 L16.41 201.90 L15.92 202.88 M7.64 198.49 L6.67 199.46 L6.18 200.44 L6.18 201.90 L6.67 202.88 L7.64 203.85 L9.10 204.34 L10.08 204.34 L11.54 203.85 L12.51 202.88 L13.00 201.90 L13.00 200.44 L12.51 199.46 L11.54 198.49 M6.18 186.79 L13.00 186.79 M8.13 186.79 L6.67 185.33 L6.18 184.35 L6.18 182.89 L6.67 181.91 L8.13 181.43 L13.00 181.43 M8.13 181.43 L6.67 179.96 L6.18 178.99 L6.18 177.53 L6.67 176.55 L8.13 176.06 L13.00 176.06 M0.34 172.65 L1.31 171.68 L2.77 170.70 L4.96 169.73 L7.64 169.24 L9.59 169.24 L12.27 169.73 L14.46 170.70 L15.92 171.68 L16.90 172.65 M0.58 157.54 L16.90 157.54 M0.58 157.05 L16.90 157.05 M0.58 157.54 L0.58 154.13 M16.90 157.54 L16.90 154.13 M7.64 145.35 L6.67 146.33 L6.18 147.30 L6.18 148.76 L6.67 149.74 L7.64 150.71 L9.10 151.20 L10.08 151.20 L11.54 150.71 L12.51 149.74 L13.00 148.76 L13.00 147.30 L12.51 146.33 L11.54 145.35 M6.18 141.94 L13.00 141.94 M8.13 141.94 L6.67 140.48 L6.18 139.50 L6.18 138.04 L6.67 137.06 L8.13 136.58 L13.00 136.58 M8.13 136.58 L6.67 135.11 L6.18 134.14 L6.18 132.68 L6.67 131.70 L8.13 131.21 L13.00 131.21 M3.22 128.05 L3.22 122.61 M-0.40 120.35 L-0.40 117.02 L2.01 118.83 L2.01 117.93 L2.32 117.32 L2.62 117.02 L3.52 116.72 L4.13 116.72 L5.03 117.02 L5.64 117.63 L5.94 118.53 L5.94 119.44 L5.64 120.35 L5.33 120.65 L4.73 120.95 M0.58 111.42 L16.90 111.42 M0.58 110.94 L16.90 110.94 M0.58 114.35 L0.58 110.94 M16.90 114.35 L16.90 110.94" fill="none" stroke="#700000" stroke-width="2.12" stroke-linecap="butt" stroke-linejoin="round"/></g>
<g><title>MRN</title><path d="M126.87 119.23 L126.87 131.30 M126.87 119.23 L131.40 131.30 M135.94 119.23 L131.40 131.30 M135.94 119.23 L135.94 131.30 M140.48 119.23 L140.48 131.30 M140.48 119.23 L145.58 119.23 L147.28 119.80 L147.85 120.38 L148.41 121.53 L148.41 122.68 L147.85 123.83 L147.28 124.40 L145.58 124.98 L140.48 124.98 M144.44 124.98 L148.41 131.30 M152.38 119.23 L152.38 131.30 M152.38 119.23 L160.32 131.30 M160.32 119.23 L160.32 131.30" fill="none" stroke="#ff7400" stroke-width="1.85" stroke-linecap="butt" stroke-linejoin="round"/></g>
<polyline points="353.48,102.06 353.97,104.93 354.46,107.76 354.95,110.56 355.44,113.34 355.92,116.08 356.41,118.80 356.90,121.48 357.39,124.14 357.88,126.77 358.37,129.37 358.85,131.95 359.34,134.50 359.83,137.02 360.32,139.51 360.81,141.98 361.29,144.42 361.78,146.84 362.27,149.23 362.76,151.60 363.25,153.94 363.74,156.26 364.22,158.55 364.71,160.82 365.20,163.06 365.69,165.28 366.18,167.48 366.66,169.65 367.15,171.80 367.64,173.93 368.13,176.04 368.62,178.12 369.11,180.18 369.59,182.22 370.08,184.24 370.57,186.24 371.06,188.21 371.55,190.17 372.03,192.10 372.52,194.02 373.01,195.91 373.50,197.79 373.99,199.64 374.48,201.48 374.96,203.29 375.45,205.09 375.94,206.87 376.43,208.63 376.92,210.37 377.40,212.09 377.89,213.79 378.38,215.48 378.87,217.15 379.36,218.80 379.85,220.43 380.33,222.05 380.82,223.64 381.31,225.23 381.80,226.79 382.29,228.34 382.77,229.87 383.26,231.39 383.75,232.89 384.24,234.38 384.73,235.85 385.22,237.30 385.70,238.74 386.19,240.16 386.68,241.57 387.17,242.96 387.66,244.34 388.14,245.71 388.63,247.06 389.12,248.39 389.61,249.71 390.10,251.02 390.59,252.32 391.07,253.60 391.56,254.86 392.05,256.12 392.54,257.36 393.03,258.59 393.51,259.80 394.00,261.00 394.49,262.19 394.98,263.37 395.47,264.53 395.95,265.69 396.44,266.83 396.93,267.95 397.42,269.07 397.91,270.18 398.40,271.27 398.88,272.35 399.37,273.42 399.86,274.48 400.35,275.53 400.84,276.57 401.32,277.59 401.81,278.61 402.30,279.61 402.79,280.61 403.28,281.59 403.77,282.57 404.25,283.53 404.74,284.49 405.23,285.43 405.72,286.37 406.21,287.29 406.69,288.21 407.18,289.11 407.67,290.01 408.16,290.90 408.65,291.78 409.14,292.65 409.62,293.51 410.11,294.36 410.60,295.21 411.09,296.04 411.58,296.87 412.06,297.69 412.55,298.50 413.04,299.31 413.53,300.10 414.02,300.89 414.51,301.67 414.99,302.44 415.48,303.21 415.97,303.97 416.46,304.72 416.95,305.46 417.43,306.20 417.92,306.93 418.41,307.65 418.90,308.37 419.39,309.08 419.88,309.79 420.36,310.49 420.85,311.18 421.34,311.87 421.83,312.55 422.32,313.23 422.80,313.90 423.29,314.57 423.78,315.23 424.27,315.89 424.76,316.54 425.25,317.19 425.73,317.84 426.22,318.48 426.71,319.11 427.20,319.75 427.69,320.38 428.17,321.00 428.66,321.63 429.15,322.25 429.64,322.86 430.13,323.48 430.62,324.09 431.10,324.70 431.59,325.31 432.08,325.92 432.57,326.52 433.06,327.13 433.54,327.73 434.03,328.33 434.52,328.93 435.01,329.52 435.50,330.12 435.99,330.71 436.47,331.31 436.96,331.90 437.45,332.49 437.94,333.09 438.43,333.68 438.91,334.26 439.40,334.85 439.89,335.44 440.38,336.02 440.87,336.61 441.36,337.19 441.84,337.77 442.33,338.34 442.82,338.92 443.31,339.49 443.80,340.06 444.28,340.62 444.77,341.19 445.26,341.75 445.75,342.30 446.24,342.85 446.73,343.40 447.21,343.94 447.70,344.48 448.19,345.01 448.68,345.53 449.17,346.06 449.65,346.57 450.14,347.08 450.63,347.58 451.12,348.08 451.61,348.57 452.10,349.05 452.58,349.53 453.07,350.00 453.56,350.47 454.05,350.92 454.54,351.37 455.02,351.82 455.51,352.25 456.00,352.68 456.49,353.10 456.98,353.52 457.47,353.92 457.95,354.33 458.44,354.72 458.93,355.11 459.42,355.48 459.91,355.86 460.39,356.22 460.88,356.58 461.37,356.93 461.86,357.28 462.35,357.62 462.83,357.95 463.32,358.28 463.81,358.60 464.30,358.91 464.79,359.22 465.28,359.52 465.76,359.82 466.25,360.11 466.74,360.39 467.23,360.67 467.72,360.94 468.20,361.21 468.69,361.47 469.18,361.73 469.67,361.98 470.16,362.22 470.65,362.47 471.13,362.70 471.62,362.93 472.11,363.16 472.60,363.38 473.09,363.60 473.57,363.81 474.06,364.02 474.55,364.22 475.04,364.43 475.53,364.62 476.02,364.81 476.50,365.00 476.99,365.18 477.48,365.36 477.97,365.54 478.46,365.71 478.94,365.88 479.43,366.05 479.92,366.21 480.41,366.37 480.90,366.53 481.39,366.68 481.87,366.83 482.36,366.97 482.85,367.12 483.34,367.26 483.83,367.39 484.31,367.53 484.80,367.66 485.29,367.79 485.78,367.91 486.27,368.04 486.76,368.16 487.24,368.28 487.73,368.39 488.22,368.50 488.71,368.62 489.20,368.72 489.68,368.83 490.17,368.93 490.66,369.04 491.15,369.14 491.64,369.23 492.13,369.33 492.61,369.42 493.10,369.52 493.59,369.61 494.08,369.69 494.57,369.78 495.05,369.86 495.54,369.95 496.03,370.03 496.52,370.11 497.01,370.18 497.50,370.26 497.98,370.33 498.47,370.41 498.96,370.48 499.45,370.55 499.94,370.61 500.42,370.68 500.91,370.75 501.40,370.81 501.89,370.87 502.38,370.93 502.87,370.99 503.35,371.05 503.84,371.11 504.33,371.17 504.82,371.22 505.31,371.28 505.79,371.33 506.28,371.38 506.77,371.43 507.26,371.48 507.75,371.53 508.24,371.58 508.72,371.62 509.21,371.67 509.70,371.71 510.19,371.76 510.68,371.80 511.16,371.84 511.65,371.88 512.14,371.92 512.63,371.96 513.12,372.00 513.61,372.04 514.09,372.08 514.58,372.11 515.07,372.15 515.56,372.18 516.05,372.22 516.53,372.25 517.02,372.28 517.51,372.31 518.00,372.35 518.49,372.38 518.98,372.41 519.46,372.43 519.95,372.46 520.44,372.49 520.93,372.52 521.42,372.55 521.90,372.57 522.39,372.60 522.88,372.62 523.37,372.65 523.86,372.67 524.35,372.70 524.83,372.72 525.32,372.74 525.81,372.76 526.30,372.79 526.79,372.81 527.27,372.83 527.76,372.85 528.25,372.87 528.74,372.89 529.23,372.91 529.71,372.93 530.20,372.94 530.69,372.96 531.18,372.98 531.67,373.00 532.16,373.01 532.64,373.03 533.13,373.05 533.62,373.06 534.11,373.08 534.60,373.09 535.08,373.11 535.57,373.12 536.06,373.14 536.55,373.15 537.04,373.16 537.53,373.18 538.01,373.19 538.50,373.20 538.99,373.22 539.48,373.23 539.97,373.24 540.45,373.25 540.94,373.26 541.43,373.27 541.92,373.28 542.41,373.30 542.90,373.31 543.38,373.32 543.87,373.33 544.36,373.34 544.85,373.35 545.34,373.36 545.82,373.37 546.31,373.37 546.80,373.38 547.29,373.39 547.78,373.40 548.27,373.41 548.75,373.42" fill="none" stroke="#700000" stroke-width="2.40" stroke-linejoin="round"/>
<polyline points="353.84,104.14 354.28,106.71 354.72,109.25 355.16,111.77 355.60,114.26 356.04,116.74 356.48,119.18 356.92,121.61 357.36,124.01 357.81,126.38 358.25,128.74 358.69,131.07 359.13,133.38 359.57,135.67 360.01,137.94 360.45,140.18 360.89,142.41 361.33,144.61 361.77,146.79 362.21,148.95 362.65,151.09 363.10,153.21 363.54,155.31 363.98,157.39 364.42,159.45 364.86,161.50 365.30,163.52 365.74,165.52 366.18,167.50 366.62,169.46 367.06,171.41 367.50,173.34 367.95,175.25 368.39,177.14 368.83,179.01 369.27,180.86 369.71,182.70 370.15,184.52 370.59,186.32 371.03,188.10 371.47,189.87 371.91,191.62 372.35,193.36 372.79,195.08 373.24,196.78 373.68,198.46 374.12,200.13 374.56,201.78 375.00,203.42 375.44,205.04 375.88,206.65 376.32,208.24 376.76,209.82 377.20,211.38 377.64,212.92 378.08,214.46 378.53,215.97 378.97,217.48 379.41,218.96 379.85,220.44 380.29,221.90 380.73,223.34 381.17,224.78 381.61,226.19 382.05,227.60 382.49,228.99 382.93,230.37 383.38,231.74 383.82,233.09 384.26,234.43 384.70,235.75 385.14,237.07 385.58,238.37 386.02,239.66 386.46,240.94 386.90,242.20 387.34,243.45 387.78,244.70 388.22,245.92 388.67,247.14 389.11,248.35 389.55,249.54 389.99,250.72 390.43,251.90 390.87,253.06 391.31,254.21 391.75,255.34 392.19,256.47 392.63,257.59 393.07,258.70 393.51,259.79 393.96,260.88 394.40,261.95 394.84,263.02 395.28,264.07 395.72,265.12 396.16,266.15 396.60,267.17 397.04,268.19 397.48,269.20 397.92,270.19 398.36,271.18 398.81,272.15 399.25,273.12 399.69,274.08 400.13,275.03 400.57,275.97 401.01,276.90 401.45,277.82 401.89,278.74 402.33,279.64 402.77,280.54 403.21,281.43 403.65,282.31 404.10,283.18 404.54,284.04 404.98,284.89 405.42,285.74 405.86,286.58 406.30,287.41 406.74,288.23 407.18,289.05 407.62,289.85 408.06,290.65 408.50,291.44 408.95,292.23 409.39,293.00 409.83,293.77 410.27,294.54 410.71,295.29 411.15,296.04 411.59,296.78 412.03,297.51 412.47,298.24 412.91,298.96 413.35,299.67 413.79,300.37 414.24,301.07 414.68,301.77 415.12,302.45 415.56,303.13 416.00,303.80 416.44,304.47 416.88,305.13 417.32,305.78 417.76,306.43 418.20,307.07 418.64,307.71 419.08,308.34 419.53,308.96 419.97,309.58 420.41,310.19 420.85,310.79 421.29,311.39 421.73,311.99 422.17,312.58 422.61,313.16 423.05,313.74 423.49,314.31 423.93,314.87 424.38,315.44 424.82,315.99 425.26,316.54 425.70,317.09 426.14,317.63 426.58,318.16 427.02,318.69 427.46,319.22 427.90,319.74 428.34,320.25 428.78,320.76 429.22,321.26 429.67,321.76 430.11,322.26 430.55,322.75 430.99,323.24 431.43,323.72 431.87,324.19 432.31,324.67 432.75,325.13 433.19,325.60 433.63,326.06 434.07,326.51 434.52,326.96 434.96,327.41 435.40,327.85 435.84,328.29 436.28,328.72 436.72,329.15 437.16,329.57 437.60,330.00 438.04,330.41 438.48,330.83 438.92,331.23 439.36,331.64 439.81,332.04 440.25,332.44 440.69,332.83 441.13,333.22 441.57,333.61 442.01,333.99" fill="none" stroke="#ff7400" stroke-width="5.60" stroke-dasharray="9.4 9.5" stroke-dashoffset="0"/>
<polyline points="353.48,102.06 353.97,104.93 354.46,107.76 354.95,110.56 355.44,113.34 355.92,116.08 356.41,118.80 356.90,121.48 357.39,124.14 357.88,126.77 358.37,129.37 358.85,131.95 359.34,134.50 359.83,137.02 360.32,139.51 360.81,141.98 361.29,144.42 361.78,146.84 362.27,149.23 362.76,151.60 363.25,153.94 363.74,156.26 364.22,158.55 364.71,160.82 365.20,163.06 365.69,165.28 366.18,167.48 366.66,169.65 367.15,171.80 367.64,173.93 368.13,176.04 368.62,178.12 369.11,180.18 369.59,182.22 370.08,184.24 370.57,186.24 371.06,188.21 371.55,190.17 372.03,192.10 372.52,194.02 373.01,195.91 373.50,197.79 373.99,199.64 374.48,201.48 374.96,203.29 375.45,205.09 375.94,206.87 376.43,208.63 376.92,210.37 377.40,212.09 377.89,213.79 378.38,215.48 378.87,217.15 379.36,218.80 379.85,220.43 380.33,222.05 380.82,223.64 381.31,225.23 381.80,226.79 382.29,228.34 382.77,229.87 383.26,231.39 383.75,232.89 384.24,234.38 384.73,235.85 385.22,237.30 385.70,238.74 386.19,240.16 386.68,241.57 387.17,242.96 387.66,244.34 388.14,245.71 388.63,247.06 389.12,248.39 389.61,249.71 390.10,251.02 390.59,252.32 391.07,253.60 391.56,254.86 392.05,256.12 392.54,257.36 393.03,258.59 393.51,259.80 394.00,261.00 394.49,262.19 394.98,263.37 395.47,264.53 395.95,265.69 396.44,266.83 396.93,267.95 397.42,269.07 397.91,270.18 398.40,271.27 398.88,272.35 399.37,273.42 399.86,274.48 400.35,275.53 400.84,276.57 401.32,277.59 401.81,278.61 402.30,279.61 402.79,280.61 403.28,281.59 403.77,282.57 404.25,283.53 404.74,284.49 405.23,285.43 405.72,286.37 406.21,287.29 406.69,288.21 407.18,289.11 407.67,290.01 408.16,290.90 408.65,291.78 409.14,292.65 409.62,293.51 410.11,294.36 410.60,295.21 411.09,296.04 411.58,296.87 412.06,297.69 412.55,298.50 413.04,299.31 413.53,300.10 414.02,300.89 414.51,301.67 414.99,302.44 415.48,303.21 415.97,303.97 416.46,304.72 416.95,305.46 417.43,306.20 417.92,306.93 418.41,307.65 418.90,308.37 419.39,309.08 419.88,309.79 420.36,310.49 420.85,311.18 421.34,311.87 421.83,312.55 422.32,313.23 422.80,313.90 423.29,314.57 423.78,315.23 424.27,315.89 424.76,316.54 425.25,317.19 425.73,317.84 426.22,318.48 426.71,319.11 427.20,319.75 427.69,320.38 428.17,321.00 428.66,321.63 429.15,322.25 429.64,322.86 430.13,323.48 430.62,324.09 431.10,324.70 431.59,325.31 432.08,325.92 432.57,326.52 433.06,327.13 433.54,327.73 434.03,328.33 434.52,328.93 435.01,329.52 435.50,330.12 435.99,330.71 436.47,331.31 436.96,331.90 437.45,332.49 437.94,333.09 438.43,333.68 438.91,334.26 439.40,334.85 439.89,335.44 440.38,336.02 440.87,336.61 441.36,337.19 441.84,337.77 442.33,338.34 442.82,338.92 443.31,339.49 443.80,340.06 444.28,340.62" fill="none" stroke="#700000" stroke-width="2.00" opacity="0.55"/>
<rect x="350.30" y="33.25" width="212.25" height="340.55" fill="none" stroke="#700000" stroke-width="2.65"/>
<g><title>-18</title><path d="M336.03 391.72 L344.87 391.72 M349.04 387.82 L350.02 387.33 L351.50 385.87 L351.50 396.10 M359.84 385.87 L358.37 386.36 L357.88 387.33 L357.88 388.31 L358.37 389.28 L359.35 389.77 L361.32 390.26 L362.79 390.74 L363.77 391.72 L364.26 392.69 L364.26 394.15 L363.77 395.13 L363.28 395.61 L361.81 396.10 L359.84 396.10 L358.37 395.61 L357.88 395.13 L357.39 394.15 L357.39 392.69 L357.88 391.72 L358.86 390.74 L360.33 390.26 L362.30 389.77 L363.28 389.28 L363.77 388.31 L363.77 387.33 L363.28 386.36 L361.81 385.87 L359.84 385.87" fill="none" stroke="#700000" stroke-width="2.12" stroke-linecap="butt" stroke-linejoin="round"/></g>
<line x1="385.68" y1="373.80" x2="385.68" y2="366.80" stroke="#700000" stroke-width="2.65" stroke-linecap="butt"/>
<line x1="385.68" y1="33.25" x2="385.68" y2="40.25" stroke="#700000" stroke-width="2.65" stroke-linecap="butt"/>
<g><title>-16</title><path d="M371.40 391.72 L380.24 391.72 M384.42 387.82 L385.40 387.33 L386.87 385.87 L386.87 396.10 M399.15 387.33 L398.65 386.36 L397.18 385.87 L396.20 385.87 L394.73 386.36 L393.74 387.82 L393.25 390.26 L393.25 392.69 L393.74 394.64 L394.73 395.61 L396.20 396.10 L396.69 396.10 L398.16 395.61 L399.15 394.64 L399.64 393.18 L399.64 392.69 L399.15 391.23 L398.16 390.26 L396.69 389.77 L396.20 389.77 L394.73 390.26 L393.74 391.23 L393.25 392.69" fill="none" stroke="#700000" stroke-width="2.12" stroke-linecap="butt" stroke-linejoin="round"/></g>
<line x1="421.05" y1="373.80" x2="421.05" y2="366.80" stroke="#700000" stroke-width="2.65" stroke-linecap="butt"/>
<line x1="421.05" y1="33.25" x2="421.05" y2="40.25" stroke="#700000" stroke-width="2.65" stroke-linecap="butt"/>
<g><title>-14</title><path d="M406.78 391.72 L415.62 391.72 M419.79 387.82 L420.77 387.33 L422.25 385.87 L422.25 396.10 M433.05 385.87 L428.14 392.69 L435.50 392.69 M433.05 385.87 L433.05 396.10" fill="none" stroke="#700000" stroke-width="2.12" stroke-linecap="butt" stroke-linejoin="round"/></g>
<line x1="456.43" y1="373.80" x2="456.43" y2="366.80" stroke="#700000" stroke-width="2.65" stroke-linecap="butt"/>
<line x1="456.43" y1="33.25" x2="456.43" y2="40.25" stroke="#700000" stroke-width="2.65" stroke-linecap="butt"/>
<g><title>-12</title><path d="M442.15 391.72 L450.99 391.72 M455.17 387.82 L456.15 387.33 L457.62 385.87 L457.62 396.10 M464.00 388.31 L464.00 387.82 L464.49 386.85 L464.99 386.36 L465.97 385.87 L467.93 385.87 L468.91 386.36 L469.40 386.85 L469.90 387.82 L469.90 388.80 L469.40 389.77 L468.42 391.23 L463.51 396.10 L470.39 396.10" fill="none" stroke="#700000" stroke-width="2.12" stroke-linecap="butt" stroke-linejoin="round"/></g>
<line x1="491.80" y1="373.80" x2="491.80" y2="366.80" stroke="#700000" stroke-width="2.65" stroke-linecap="butt"/>
<line x1="491.80" y1="33.25" x2="491.80" y2="40.25" stroke="#700000" stroke-width="2.65" stroke-linecap="butt"/>
<g><title>-10</title><path d="M477.53 391.72 L486.37 391.72 M490.54 387.82 L491.52 387.33 L493.00 385.87 L493.00 396.10 M501.83 385.87 L500.36 386.36 L499.38 387.82 L498.89 390.26 L498.89 391.72 L499.38 394.15 L500.36 395.61 L501.83 396.10 L502.82 396.10 L504.29 395.61 L505.27 394.15 L505.76 391.72 L505.76 390.26 L505.27 387.82 L504.29 386.36 L502.82 385.87 L501.83 385.87" fill="none" stroke="#700000" stroke-width="2.12" stroke-linecap="butt" stroke-linejoin="round"/></g>
<line x1="527.17" y1="373.80" x2="527.17" y2="366.80" stroke="#700000" stroke-width="2.65" stroke-linecap="butt"/>
<line x1="527.17" y1="33.25" x2="527.17" y2="40.25" stroke="#700000" stroke-width="2.65" stroke-linecap="butt"/>
<g><title>-8</title><path d="M517.81 391.72 L526.65 391.72 M531.81 385.87 L530.33 386.36 L529.84 387.33 L529.84 388.31 L530.33 389.28 L531.32 389.77 L533.28 390.26 L534.75 390.74 L535.74 391.72 L536.23 392.69 L536.23 394.15 L535.74 395.13 L535.24 395.61 L533.77 396.10 L531.81 396.10 L530.33 395.61 L529.84 395.13 L529.35 394.15 L529.35 392.69 L529.84 391.72 L530.83 390.74 L532.30 390.26 L534.26 389.77 L535.24 389.28 L535.74 388.31 L535.74 387.33 L535.24 386.36 L533.77 385.87 L531.81 385.87" fill="none" stroke="#700000" stroke-width="2.12" stroke-linecap="butt" stroke-linejoin="round"/></g>
<g><title>-6</title><path d="M553.19 391.72 L562.03 391.72 M571.11 387.33 L570.62 386.36 L569.15 385.87 L568.16 385.87 L566.69 386.36 L565.71 387.82 L565.22 390.26 L565.22 392.69 L565.71 394.64 L566.69 395.61 L568.16 396.10 L568.66 396.10 L570.13 395.61 L571.11 394.64 L571.60 393.18 L571.60 392.69 L571.11 391.23 L570.13 390.26 L568.66 389.77 L568.16 389.77 L566.69 390.26 L565.71 391.23 L565.22 392.69" fill="none" stroke="#700000" stroke-width="2.12" stroke-linecap="butt" stroke-linejoin="round"/></g>
<g><title>log. m (g)</title><path d="M417.88 404.97 L417.88 415.20 M423.77 408.38 L422.79 408.87 L421.81 409.84 L421.32 411.30 L421.32 412.28 L421.81 413.74 L422.79 414.71 L423.77 415.20 L425.25 415.20 L426.23 414.71 L427.21 413.74 L427.70 412.28 L427.70 411.30 L427.21 409.84 L426.23 408.87 L425.25 408.38 L423.77 408.38 M436.54 408.38 L436.54 416.17 L436.05 417.63 L435.56 418.12 L434.58 418.61 L433.10 418.61 L432.12 418.12 M436.54 409.84 L435.56 408.87 L434.58 408.38 L433.10 408.38 L432.12 408.87 L431.14 409.84 L430.65 411.30 L430.65 412.28 L431.14 413.74 L432.12 414.71 L433.10 415.20 L434.58 415.20 L435.56 414.71 L436.54 413.74 M440.96 414.23 L440.47 414.71 L440.96 415.20 L441.45 414.71 L440.96 414.23 M453.23 408.38 L453.23 415.20 M453.23 410.33 L454.71 408.87 L455.69 408.38 L457.16 408.38 L458.14 408.87 L458.63 410.33 L458.63 415.20 M458.63 410.33 L460.11 408.87 L461.09 408.38 L462.56 408.38 L463.54 408.87 L464.04 410.33 L464.04 415.20 M479.26 402.54 L478.27 403.51 L477.29 404.97 L476.31 407.16 L475.82 409.84 L475.82 411.79 L476.31 414.47 L477.29 416.66 L478.27 418.12 L479.26 419.10 M488.09 408.38 L488.09 416.17 L487.60 417.63 L487.11 418.12 L486.13 418.61 L484.66 418.61 L483.68 418.12 M488.09 409.84 L487.11 408.87 L486.13 408.38 L484.66 408.38 L483.68 408.87 L482.69 409.84 L482.20 411.30 L482.20 412.28 L482.69 413.74 L483.68 414.71 L484.66 415.20 L486.13 415.20 L487.11 414.71 L488.09 413.74 M491.53 402.54 L492.51 403.51 L493.50 404.97 L494.48 407.16 L494.97 409.84 L494.97 411.79 L494.48 414.47 L493.50 416.66 L492.51 418.12 L491.53 419.10" fill="none" stroke="#700000" stroke-width="2.12" stroke-linecap="butt" stroke-linejoin="round"/></g>
<line x1="350.30" y1="356.77" x2="352.30" y2="356.77" stroke="#700000" stroke-width="2.40" stroke-linecap="butt"/>
<line x1="562.55" y1="356.77" x2="560.55" y2="356.77" stroke="#700000" stroke-width="2.40" stroke-linecap="butt"/>
<line x1="350.30" y1="339.75" x2="352.30" y2="339.75" stroke="#700000" stroke-width="2.40" stroke-linecap="butt"/>
<line x1="562.55" y1="339.75" x2="560.55" y2="339.75" stroke="#700000" stroke-width="2.40" stroke-linecap="butt"/>
<line x1="350.30" y1="322.72" x2="352.30" y2="322.72" stroke="#700000" stroke-width="2.40" stroke-linecap="butt"/>
<line x1="562.55" y1="322.72" x2="560.55" y2="322.72" stroke="#700000" stroke-width="2.40" stroke-linecap="butt"/>
<line x1="350.30" y1="305.69" x2="352.30" y2="305.69" stroke="#700000" stroke-width="2.40" stroke-linecap="butt"/>
<line x1="562.55" y1="305.69" x2="560.55" y2="305.69" stroke="#700000" stroke-width="2.40" stroke-linecap="butt"/>
<line x1="350.30" y1="288.66" x2="354.50" y2="288.66" stroke="#700000" stroke-width="2.40" stroke-linecap="butt"/>
<line x1="562.55" y1="288.66" x2="558.35" y2="288.66" stroke="#700000" stroke-width="2.40" stroke-linecap="butt"/>
<line x1="350.30" y1="271.63" x2="352.30" y2="271.63" stroke="#700000" stroke-width="2.40" stroke-linecap="butt"/>
<line x1="562.55" y1="271.63" x2="560.55" y2="271.63" stroke="#700000" stroke-width="2.40" stroke-linecap="butt"/>
<line x1="350.30" y1="254.61" x2="352.30" y2="254.61" stroke="#700000" stroke-width="2.40" stroke-linecap="butt"/>
<line x1="562.55" y1="254.61" x2="560.55" y2="254.61" stroke="#700000" stroke-width="2.40" stroke-linecap="butt"/>
<line x1="350.30" y1="237.58" x2="352.30" y2="237.58" stroke="#700000" stroke-width="2.40" stroke-linecap="butt"/>
<line x1="562.55" y1="237.58" x2="560.55" y2="237.58" stroke="#700000" stroke-width="2.40" stroke-linecap="butt"/>
<line x1="350.30" y1="220.55" x2="352.30" y2="220.55" stroke="#700000" stroke-width="2.40" stroke-linecap="butt"/>
<line x1="562.55" y1="220.55" x2="560.55" y2="220.55" stroke="#700000" stroke-width="2.40" stroke-linecap="butt"/>
<line x1="350.30" y1="203.53" x2="354.50" y2="203.53" stroke="#700000" stroke-width="2.40" stroke-linecap="butt"/>
<line x1="562.55" y1="203.53" x2="558.35" y2="203.53" stroke="#700000" stroke-width="2.40" stroke-linecap="butt"/>
<line x1="350.30" y1="186.50" x2="352.30" y2="186.50" stroke="#700000" stroke-width="2.40" stroke-linecap="butt"/>
<line x1="562.55" y1="186.50" x2="560.55" y2="186.50" stroke="#700000" stroke-width="2.40" stroke-linecap="butt"/>
<line x1="350.30" y1="169.47" x2="352.30" y2="169.47" stroke="#700000" stroke-width="2.40" stroke-linecap="butt"/>
<line x1="562.55" y1="169.47" x2="560.55" y2="169.47" stroke="#700000" stroke-width="2.40" stroke-linecap="butt"/>
<line x1="350.30" y1="152.44" x2="352.30" y2="152.44" stroke="#700000" stroke-width="2.40" stroke-linecap="butt"/>
<line x1="562.55" y1="152.44" x2="560.55" y2="152.44" stroke="#700000" stroke-width="2.40" stroke-linecap="butt"/>
<line x1="350.30" y1="135.42" x2="352.30" y2="135.42" stroke="#700000" stroke-width="2.40" stroke-linecap="butt"/>
<line x1="562.55" y1="135.42" x2="560.55" y2="135.42" stroke="#700000" stroke-width="2.40" stroke-linecap="butt"/>
<line x1="350.30" y1="118.39" x2="354.50" y2="118.39" stroke="#700000" stroke-width="2.40" stroke-linecap="butt"/>
<line x1="562.55" y1="118.39" x2="558.35" y2="118.39" stroke="#700000" stroke-width="2.40" stroke-linecap="butt"/>
<line x1="350.30" y1="101.36" x2="352.30" y2="101.36" stroke="#700000" stroke-width="2.40" stroke-linecap="butt"/>
<line x1="562.55" y1="101.36" x2="560.55" y2="101.36" stroke="#700000" stroke-width="2.40" stroke-linecap="butt"/>
<line x1="350.30" y1="84.33" x2="352.30" y2="84.33" stroke="#700000" stroke-width="2.40" stroke-linecap="butt"/>
<line x1="562.55" y1="84.33" x2="560.55" y2="84.33" stroke="#700000" stroke-width="2.40" stroke-linecap="butt"/>
<line x1="350.30" y1="67.31" x2="352.30" y2="67.31" stroke="#700000" stroke-width="2.40" stroke-linecap="butt"/>
<line x1="562.55" y1="67.31" x2="560.55" y2="67.31" stroke="#700000" stroke-width="2.40" stroke-linecap="butt"/>
<line x1="350.30" y1="50.28" x2="352.30" y2="50.28" stroke="#700000" stroke-width="2.40" stroke-linecap="butt"/>
<line x1="562.55" y1="50.28" x2="560.55" y2="50.28" stroke="#700000" stroke-width="2.40" stroke-linecap="butt"/>
<g><title>20</title><path d="M327.62 35.76 L327.62 35.27 L328.12 34.30 L328.61 33.81 L329.59 33.32 L331.55 33.32 L332.53 33.81 L333.03 34.30 L333.52 35.27 L333.52 36.24 L333.03 37.22 L332.04 38.68 L327.13 43.55 L334.01 43.55 M339.90 33.32 L338.43 33.81 L337.44 35.27 L336.95 37.71 L336.95 39.17 L337.44 41.60 L338.43 43.06 L339.90 43.55 L340.88 43.55 L342.35 43.06 L343.34 41.60 L343.83 39.17 L343.83 37.71 L343.34 35.27 L342.35 33.81 L340.88 33.32 L339.90 33.32" fill="none" stroke="#700000" stroke-width="2.12" stroke-linecap="butt" stroke-linejoin="round"/></g>
<g><title>15</title><path d="M328.61 116.51 L329.59 116.02 L331.06 114.56 L331.06 124.79 M342.85 114.56 L337.94 114.56 L337.44 118.94 L337.94 118.46 L339.41 117.97 L340.88 117.97 L342.35 118.46 L343.34 119.43 L343.83 120.89 L343.83 121.87 L343.34 123.33 L342.35 124.30 L340.88 124.79 L339.41 124.79 L337.94 124.30 L337.44 123.81 L336.95 122.84" fill="none" stroke="#700000" stroke-width="2.12" stroke-linecap="butt" stroke-linejoin="round"/></g>
<g><title>10</title><path d="M328.61 201.65 L329.59 201.16 L331.06 199.70 L331.06 209.93 M339.90 199.70 L338.43 200.19 L337.44 201.65 L336.95 204.08 L336.95 205.54 L337.44 207.98 L338.43 209.44 L339.90 209.93 L340.88 209.93 L342.35 209.44 L343.34 207.98 L343.83 205.54 L343.83 204.08 L343.34 201.65 L342.35 200.19 L340.88 199.70 L339.90 199.70" fill="none" stroke="#700000" stroke-width="2.12" stroke-linecap="butt" stroke-linejoin="round"/></g>
<g><title>5</title><path d="M342.85 284.84 L337.94 284.84 L337.44 289.22 L337.94 288.73 L339.41 288.24 L340.88 288.24 L342.35 288.73 L343.34 289.71 L343.83 291.17 L343.83 292.14 L343.34 293.60 L342.35 294.58 L340.88 295.06 L339.41 295.06 L337.94 294.58 L337.44 294.09 L336.95 293.11" fill="none" stroke="#700000" stroke-width="2.12" stroke-linecap="butt" stroke-linejoin="round"/></g>
<g><title>0</title><path d="M339.90 363.57 L338.43 364.06 L337.44 365.52 L336.95 367.96 L336.95 369.42 L337.44 371.85 L338.43 373.31 L339.90 373.80 L340.88 373.80 L342.35 373.31 L343.34 371.85 L343.83 369.42 L343.83 367.96 L343.34 365.52 L342.35 364.06 L340.88 363.57 L339.90 363.57" fill="none" stroke="#700000" stroke-width="2.12" stroke-linecap="butt" stroke-linejoin="round"/></g>
<g><title>AdN/d(logm)[cm-1]/10-23</title><path d="M301.87 300.37 L312.10 304.27 M301.87 300.37 L312.10 296.47 M308.69 302.81 L308.69 297.94 M301.87 288.67 L312.10 288.67 M306.74 288.67 L305.77 289.65 L305.28 290.62 L305.28 292.09 L305.77 293.06 L306.74 294.04 L308.20 294.52 L309.18 294.52 L310.64 294.04 L311.61 293.06 L312.10 292.09 L312.10 290.62 L311.61 289.65 L310.64 288.67 M301.87 284.77 L312.10 284.77 M301.87 284.77 L312.10 277.95 M301.87 277.95 L312.10 277.95 M299.93 266.25 L315.51 275.02 M301.87 257.96 L312.10 257.96 M306.74 257.96 L305.77 258.94 L305.28 259.91 L305.28 261.37 L305.77 262.35 L306.74 263.32 L308.20 263.81 L309.18 263.81 L310.64 263.32 L311.61 262.35 L312.10 261.37 L312.10 259.91 L311.61 258.94 L310.64 257.96 M299.44 250.65 L300.41 251.62 L301.87 252.60 L304.06 253.57 L306.74 254.06 L308.69 254.06 L311.37 253.57 L313.56 252.60 L315.02 251.62 L316.00 250.65 M301.87 247.24 L312.10 247.24 M305.28 241.39 L305.77 242.36 L306.74 243.34 L308.20 243.82 L309.18 243.82 L310.64 243.34 L311.61 242.36 L312.10 241.39 L312.10 239.92 L311.61 238.95 L310.64 237.97 L309.18 237.49 L308.20 237.49 L306.74 237.97 L305.77 238.95 L305.28 239.92 L305.28 241.39 M305.28 228.71 L313.07 228.71 L314.54 229.20 L315.02 229.69 L315.51 230.66 L315.51 232.12 L315.02 233.10 M306.74 228.71 L305.77 229.69 L305.28 230.66 L305.28 232.12 L305.77 233.10 L306.74 234.07 L308.20 234.56 L309.18 234.56 L310.64 234.07 L311.61 233.10 L312.10 232.12 L312.10 230.66 L311.61 229.69 L310.64 228.71 M305.28 224.81 L312.10 224.81 M307.23 224.81 L305.77 223.35 L305.28 222.37 L305.28 220.91 L305.77 219.94 L307.23 219.45 L312.10 219.45 M307.23 219.45 L305.77 217.99 L305.28 217.01 L305.28 215.55 L305.77 214.57 L307.23 214.09 L312.10 214.09 M299.44 210.67 L300.41 209.70 L301.87 208.72 L304.06 207.75 L306.74 207.26 L308.69 207.26 L311.37 207.75 L313.56 208.72 L315.02 209.70 L316.00 210.67 M299.68 203.36 L316.00 203.36 M299.68 202.87 L316.00 202.87 M299.68 203.36 L299.68 199.95 M316.00 203.36 L316.00 199.95 M306.74 191.17 L305.77 192.15 L305.28 193.12 L305.28 194.59 L305.77 195.56 L306.74 196.54 L308.20 197.02 L309.18 197.02 L310.64 196.54 L311.61 195.56 L312.10 194.59 L312.10 193.12 L311.61 192.15 L310.64 191.17 M305.28 187.76 L312.10 187.76 M307.23 187.76 L305.77 186.30 L305.28 185.32 L305.28 183.86 L305.77 182.89 L307.23 182.40 L312.10 182.40 M307.23 182.40 L305.77 180.94 L305.28 179.96 L305.28 178.50 L305.77 177.52 L307.23 177.04 L312.10 177.04 M302.32 173.88 L302.32 168.44 M299.91 165.87 L299.60 165.26 L298.70 164.36 L305.04 164.36 M299.68 157.25 L316.00 157.25 M299.68 156.76 L316.00 156.76 M299.68 160.17 L299.68 156.76 M316.00 160.17 L316.00 156.76 M299.93 145.06 L315.51 153.84 M303.82 141.16 L303.33 140.19 L301.87 138.72 L312.10 138.72 M301.87 129.95 L302.36 131.41 L303.82 132.38 L306.26 132.87 L307.72 132.87 L310.15 132.38 L311.61 131.41 L312.10 129.95 L312.10 128.97 L311.61 127.51 L310.15 126.54 L307.72 126.05 L306.26 126.05 L303.82 126.54 L302.36 127.51 L301.87 128.97 L301.87 129.95 M302.32 123.38 L302.32 117.94 M300.21 115.97 L299.91 115.97 L299.30 115.67 L299.00 115.37 L298.70 114.76 L298.70 113.55 L299.00 112.95 L299.30 112.65 L299.91 112.34 L300.51 112.34 L301.11 112.65 L302.02 113.25 L305.04 116.27 L305.04 112.04 M298.70 109.62 L298.70 106.30 L301.11 108.11 L301.11 107.21 L301.42 106.60 L301.72 106.30 L302.62 106.00 L303.23 106.00 L304.13 106.30 L304.74 106.90 L305.04 107.81 L305.04 108.72 L304.74 109.62 L304.43 109.93 L303.83 110.23" fill="none" stroke="#700000" stroke-width="2.12" stroke-linecap="butt" stroke-linejoin="round"/></g>
<g><title>MRN</title><path d="M387.07 328.12 L387.07 340.20 M387.07 328.12 L391.60 340.20 M396.14 328.12 L391.60 340.20 M396.14 328.12 L396.14 340.20 M400.68 328.12 L400.68 340.20 M400.68 328.12 L405.78 328.12 L407.48 328.70 L408.05 329.27 L408.61 330.43 L408.61 331.57 L408.05 332.72 L407.48 333.30 L405.78 333.88 L400.68 333.88 M404.64 333.88 L408.61 340.20 M412.58 328.12 L412.58 340.20 M412.58 328.12 L420.52 340.20 M420.52 328.12 L420.52 340.20" fill="none" stroke="#ff7400" stroke-width="1.85" stroke-linecap="butt" stroke-linejoin="round"/></g>
<polyline points="640.38,330.23 640.87,329.77 641.36,329.30 641.85,328.82 642.34,328.34 642.82,327.86 643.31,327.37 643.80,326.88 644.29,326.38 644.78,325.87 645.27,325.36 645.75,324.85 646.24,324.33 646.73,323.80 647.22,323.27 647.71,322.73 648.19,322.18 648.68,321.63 649.17,321.08 649.66,320.52 650.15,319.95 650.64,319.38 651.12,318.80 651.61,318.21 652.10,317.62 652.59,317.02 653.08,316.42 653.56,315.81 654.05,315.19 654.54,314.56 655.03,313.93 655.52,313.30 656.01,312.65 656.49,312.00 656.98,311.34 657.47,310.68 657.96,310.01 658.45,309.33 658.93,308.64 659.42,307.95 659.91,307.24 660.40,306.54 660.89,305.82 661.38,305.10 661.86,304.36 662.35,303.62 662.84,302.88 663.33,302.12 663.82,301.36 664.30,300.59 664.79,299.81 665.28,299.02 665.77,298.22 666.26,297.42 666.75,296.61 667.23,295.78 667.72,294.95 668.21,294.11 668.70,293.27 669.19,292.41 669.67,291.54 670.16,290.67 670.65,289.78 671.14,288.89 671.63,287.98 672.12,287.07 672.60,286.15 673.09,285.21 673.58,284.27 674.07,283.32 674.56,282.35 675.04,281.38 675.53,280.40 676.02,279.40 676.51,278.40 677.00,277.38 677.49,276.36 677.97,275.32 678.46,274.27 678.95,273.21 679.44,272.14 679.93,271.06 680.41,269.97 680.90,268.86 681.39,267.74 681.88,266.62 682.37,265.48 682.85,264.32 683.34,263.16 683.83,261.98 684.32,260.79 684.81,259.59 685.30,258.38 685.78,257.15 686.27,255.91 686.76,254.66 687.25,253.39 687.74,252.11 688.22,250.82 688.71,249.51 689.20,248.19 689.69,246.86 690.18,245.51 690.67,244.15 691.15,242.77 691.64,241.38 692.13,239.98 692.62,238.56 693.11,237.12 693.59,235.68 694.08,234.21 694.57,232.73 695.06,231.24 695.55,229.73 696.04,228.21 696.52,226.67 697.01,225.12 697.50,223.55 697.99,221.96 698.48,220.36 698.96,218.75 699.45,217.12 699.94,215.47 700.43,213.81 700.92,212.13 701.41,210.43 701.89,208.73 702.38,207.00 702.87,205.26 703.36,203.50 703.85,201.73 704.33,199.94 704.82,198.14 705.31,196.32 705.80,194.49 706.29,192.64 706.78,190.78 707.26,188.91 707.75,187.02 708.24,185.12 708.73,183.20 709.22,181.28 709.70,179.34 710.19,177.38 710.68,175.42 711.17,173.45 711.66,171.47 712.15,169.48 712.63,167.48 713.12,165.48 713.61,163.47 714.10,161.45 714.59,159.43 715.07,157.41 715.56,155.38 716.05,153.36 716.54,151.34 717.03,149.32 717.52,147.30 718.00,145.30 718.49,143.30 718.98,141.31 719.47,139.33 719.96,137.36 720.44,135.41 720.93,133.48 721.42,131.57 721.91,129.67 722.40,127.81 722.89,125.96 723.37,124.15 723.86,122.36 724.35,120.61 724.84,118.89 725.33,117.21 725.81,115.56 726.30,113.95 726.79,112.38 727.28,110.85 727.77,109.37 728.26,107.92 728.74,106.53 729.23,105.18 729.72,103.87 730.21,102.61 730.70,101.40 731.18,100.23 731.67,99.11 732.16,98.04 732.65,97.01 733.14,96.03 733.63,95.09 734.11,94.20 734.60,93.35 735.09,92.54 735.58,91.77 736.07,91.04 736.55,90.35 737.04,89.70 737.53,89.08 738.02,88.50 738.51,87.95 739.00,87.43 739.48,86.94 739.97,86.48 740.46,86.05 740.95,85.64 741.44,85.26 741.92,84.90 742.41,84.57 742.90,84.26 743.39,83.96 743.88,83.69 744.37,83.43 744.85,83.19 745.34,82.96 745.83,82.75 746.32,82.56 746.81,82.37 747.29,82.20 747.78,82.04 748.27,81.90 748.76,81.76 749.25,81.63 749.73,81.51 750.22,81.40 750.71,81.29 751.20,81.20 751.69,81.10 752.18,81.02 752.66,80.94 753.15,80.87 753.64,80.80 754.13,80.74 754.62,80.68 755.10,80.63 755.59,80.57 756.08,80.53 756.57,80.48 757.06,80.44 757.55,80.41 758.03,80.37 758.52,80.34 759.01,80.31 759.50,80.28 759.99,80.25 760.47,80.23 760.96,80.21 761.45,80.18 761.94,80.16 762.43,80.15 762.92,80.13 763.40,80.11 763.89,80.10 764.38,80.09 764.87,80.07 765.36,80.06 765.84,80.05 766.33,80.04 766.82,80.03 767.31,80.02 767.80,80.01 768.29,80.01 768.77,80.00 769.26,79.99 769.75,79.99 770.24,79.98 770.73,79.98 771.21,79.97 771.70,79.97 772.19,79.96 772.68,79.96 773.17,79.96 773.66,79.95 774.14,79.95 774.63,79.95 775.12,79.94 775.61,79.94 776.10,79.94 776.58,79.94 777.07,79.94 777.56,79.93 778.05,79.93 778.54,79.93 779.03,79.93 779.51,79.93 780.00,79.93 780.49,79.93 780.98,79.92 781.47,79.92 781.95,79.92 782.44,79.92 782.93,79.92 783.42,79.92 783.91,79.92 784.40,79.92 784.88,79.92 785.37,79.92 785.86,79.92 786.35,79.92 786.84,79.92 787.32,79.92 787.81,79.91 788.30,79.91 788.79,79.91 789.28,79.91 789.77,79.91 790.25,79.91 790.74,79.91 791.23,79.91 791.72,79.91 792.21,79.91 792.69,79.91 793.18,79.91 793.67,79.91 794.16,79.91 794.65,79.91 795.14,79.91 795.62,79.91 796.11,79.91 796.60,79.91 797.09,79.91 797.58,79.91 798.06,79.91 798.55,79.91 799.04,79.91 799.53,79.91 800.02,79.91 800.51,79.91 800.99,79.91 801.48,79.91 801.97,79.91 802.46,79.91 802.95,79.91 803.43,79.91 803.92,79.91 804.41,79.91 804.90,79.91 805.39,79.91 805.88,79.91 806.36,79.91 806.85,79.91 807.34,79.91 807.83,79.91 808.32,79.91 808.80,79.91 809.29,79.91 809.78,79.91 810.27,79.91 810.76,79.91 811.25,79.91 811.73,79.91 812.22,79.91 812.71,79.91 813.20,79.91 813.69,79.91 814.17,79.91 814.66,79.91 815.15,79.91 815.64,79.91 816.13,79.91 816.61,79.91 817.10,79.91 817.59,79.91 818.08,79.91 818.57,79.91 819.06,79.91 819.54,79.91 820.03,79.91 820.52,79.91 821.01,79.91 821.50,79.91 821.98,79.91 822.47,79.91 822.96,79.91 823.45,79.91 823.94,79.91 824.43,79.91 824.91,79.91 825.40,79.91 825.89,79.91 826.38,79.91 826.87,79.91 827.35,79.91 827.84,79.91 828.33,79.91 828.82,79.91 829.31,79.91 829.80,79.91 830.28,79.91 830.77,79.91 831.26,79.91 831.75,79.91 832.24,79.91 832.72,79.91 833.21,79.91 833.70,79.91 834.19,79.91 834.68,79.91 835.17,79.91 835.65,79.91" fill="none" stroke="#700000" stroke-width="2.40" stroke-linejoin="round"/>
<polyline points="640.38,330.23 640.83,329.81 641.27,329.39 641.71,328.96 642.15,328.52 642.60,328.09 643.04,327.65 643.48,327.20 643.92,326.75 644.37,326.30 644.81,325.84 645.25,325.38 645.70,324.91 646.14,324.44 646.58,323.96 647.02,323.48 647.47,322.99 647.91,322.50 648.35,322.01 648.79,321.51 649.24,321.00 649.68,320.49 650.12,319.98 650.56,319.46 651.01,318.94 651.45,318.41 651.89,317.87 652.33,317.33 652.78,316.79 653.22,316.24 653.66,315.68 654.11,315.12 654.55,314.55 654.99,313.98 655.43,313.41 655.88,312.82 656.32,312.23 656.76,311.64 657.20,311.04 657.65,310.44 658.09,309.82 658.53,309.21 658.97,308.58 659.42,307.95 659.86,307.32 660.30,306.68 660.74,306.03 661.19,305.38 661.63,304.71 662.07,304.05 662.52,303.37 662.96,302.70 663.40,302.01 663.84,301.32 664.29,300.62 664.73,299.91 665.17,299.20 665.61,298.48 666.06,297.75 666.50,297.02 666.94,296.28 667.38,295.53 667.83,294.77 668.27,294.01 668.71,293.24 669.15,292.46 669.60,291.68 670.04,290.89 670.48,290.09 670.93,289.28 671.37,288.46 671.81,287.64 672.25,286.81 672.70,285.97 673.14,285.12 673.58,284.26 674.02,283.40 674.47,282.53 674.91,281.65 675.35,280.76 675.79,279.86 676.24,278.95 676.68,278.04 677.12,277.11 677.56,276.18 678.01,275.24 678.45,274.29 678.89,273.33 679.34,272.36 679.78,271.38 680.22,270.39 680.66,269.39 681.11,268.39 681.55,267.37 681.99,266.34 682.43,265.30 682.88,264.26 683.32,263.20 683.76,262.13 684.20,261.05 684.65,259.97 685.09,258.87 685.53,257.76 685.97,256.64 686.42,255.51 686.86,254.37 687.30,253.21 687.75,252.05 688.19,250.88 688.63,249.69 689.07,248.49 689.52,247.28 689.96,246.06 690.40,244.83 690.84,243.59 691.29,242.33 691.73,241.06 692.17,239.78 692.61,238.49 693.06,237.18 693.50,235.86 693.94,234.53 694.38,233.19 694.83,231.83 695.27,230.46 695.71,229.08 696.16,227.68 696.60,226.27 697.04,224.85 697.48,223.41 697.93,221.96 698.37,220.49 698.81,219.01 699.25,217.52 699.70,216.01 700.14,214.49 700.58,212.95 701.02,211.40 701.47,209.83 701.91,208.25 702.35,206.65 702.79,205.04 703.24,203.41 703.68,201.77 704.12,200.11 704.57,198.43 705.01,196.74 705.45,195.03 705.89,193.30 706.34,191.56 706.78,189.80 707.22,188.03 707.66,186.23 708.11,184.42 708.55,182.60 708.99,180.75 709.43,178.89 709.88,177.01 710.32,175.11 710.76,173.19 711.20,171.26 711.65,169.30 712.09,167.33 712.53,165.34 712.98,163.32 713.42,161.29 713.86,159.24 714.30,157.17 714.75,155.08 715.19,152.97 715.63,150.84 716.07,148.69 716.52,146.52 716.96,144.32 717.40,142.11 717.84,139.87 718.29,137.62 718.73,135.34 719.17,133.03 719.61,130.71 720.06,128.37 720.50,126.00 720.94,123.61 721.38,121.19 721.83,118.75 722.27,116.29 722.71,113.81 723.16,111.30 723.60,108.77 724.04,106.21 724.48,103.63 724.93,101.02 725.37,98.39 725.81,95.73 726.25,93.05 726.70,90.34 727.14,87.60 727.58,84.84 728.02,82.05 728.47,79.24 728.91,76.39" fill="none" stroke="#ff7400" stroke-width="5.60" stroke-dasharray="9.4 9.5" stroke-dashoffset="0"/>
<polyline points="640.38,330.23 640.87,329.77 641.36,329.30 641.85,328.82 642.34,328.34 642.82,327.86 643.31,327.37 643.80,326.88 644.29,326.38 644.78,325.87 645.27,325.36 645.75,324.85 646.24,324.33 646.73,323.80 647.22,323.27 647.71,322.73 648.19,322.18 648.68,321.63 649.17,321.08 649.66,320.52 650.15,319.95 650.64,319.38 651.12,318.80 651.61,318.21 652.10,317.62 652.59,317.02 653.08,316.42 653.56,315.81 654.05,315.19 654.54,314.56 655.03,313.93 655.52,313.30 656.01,312.65 656.49,312.00 656.98,311.34 657.47,310.68 657.96,310.01 658.45,309.33 658.93,308.64 659.42,307.95 659.91,307.24 660.40,306.54 660.89,305.82 661.38,305.10 661.86,304.36 662.35,303.62 662.84,302.88 663.33,302.12 663.82,301.36 664.30,300.59 664.79,299.81 665.28,299.02 665.77,298.22 666.26,297.42 666.75,296.61 667.23,295.78 667.72,294.95 668.21,294.11 668.70,293.27 669.19,292.41 669.67,291.54 670.16,290.67 670.65,289.78 671.14,288.89 671.63,287.98 672.12,287.07 672.60,286.15 673.09,285.21 673.58,284.27 674.07,283.32 674.56,282.35 675.04,281.38 675.53,280.40 676.02,279.40 676.51,278.40 677.00,277.38 677.49,276.36 677.97,275.32 678.46,274.27 678.95,273.21 679.44,272.14 679.93,271.06 680.41,269.97 680.90,268.86 681.39,267.74 681.88,266.62 682.37,265.48 682.85,264.32 683.34,263.16 683.83,261.98 684.32,260.79 684.81,259.59 685.30,258.38 685.78,257.15 686.27,255.91 686.76,254.66 687.25,253.39 687.74,252.11 688.22,250.82 688.71,249.51 689.20,248.19 689.69,246.86 690.18,245.51 690.67,244.15 691.15,242.77 691.64,241.38 692.13,239.98 692.62,238.56 693.11,237.12 693.59,235.68 694.08,234.21 694.57,232.73 695.06,231.24 695.55,229.73 696.04,228.21 696.52,226.67 697.01,225.12 697.50,223.55 697.99,221.96 698.48,220.36 698.96,218.75 699.45,217.12 699.94,215.47 700.43,213.81 700.92,212.13 701.41,210.43 701.89,208.73 702.38,207.00 702.87,205.26 703.36,203.50 703.85,201.73 704.33,199.94 704.82,198.14 705.31,196.32 705.80,194.49 706.29,192.64 706.78,190.78 707.26,188.91 707.75,187.02 708.24,185.12 708.73,183.20 709.22,181.28 709.70,179.34 710.19,177.38 710.68,175.42 711.17,173.45 711.66,171.47 712.15,169.48 712.63,167.48 713.12,165.48 713.61,163.47 714.10,161.45 714.59,159.43 715.07,157.41 715.56,155.38 716.05,153.36 716.54,151.34 717.03,149.32 717.52,147.30 718.00,145.30 718.49,143.30 718.98,141.31 719.47,139.33 719.96,137.36 720.44,135.41 720.93,133.48 721.42,131.57 721.91,129.67 722.40,127.81 722.89,125.96 723.37,124.15 723.86,122.36 724.35,120.61 724.84,118.89 725.33,117.21 725.81,115.56 726.30,113.95 726.79,112.38 727.28,110.85 727.77,109.37 728.26,107.92 728.74,106.53 729.23,105.18 729.72,103.87 730.21,102.61 730.70,101.40 731.18,100.23" fill="none" stroke="#700000" stroke-width="2.00" opacity="0.55"/>
<rect x="637.20" y="33.25" width="212.25" height="340.55" fill="none" stroke="#700000" stroke-width="2.65"/>
<g><title>-18</title><path d="M622.93 391.72 L631.77 391.72 M635.94 387.82 L636.92 387.33 L638.40 385.87 L638.40 396.10 M646.74 385.87 L645.27 386.36 L644.78 387.33 L644.78 388.31 L645.27 389.28 L646.25 389.77 L648.22 390.26 L649.69 390.74 L650.67 391.72 L651.16 392.69 L651.16 394.15 L650.67 395.13 L650.18 395.61 L648.71 396.10 L646.74 396.10 L645.27 395.61 L644.78 395.13 L644.29 394.15 L644.29 392.69 L644.78 391.72 L645.76 390.74 L647.23 390.26 L649.20 389.77 L650.18 389.28 L650.67 388.31 L650.67 387.33 L650.18 386.36 L648.71 385.87 L646.74 385.87" fill="none" stroke="#700000" stroke-width="2.12" stroke-linecap="butt" stroke-linejoin="round"/></g>
<line x1="672.58" y1="373.80" x2="672.58" y2="366.80" stroke="#700000" stroke-width="2.65" stroke-linecap="butt"/>
<line x1="672.58" y1="33.25" x2="672.58" y2="40.25" stroke="#700000" stroke-width="2.65" stroke-linecap="butt"/>
<g><title>-16</title><path d="M658.30 391.72 L667.14 391.72 M671.32 387.82 L672.30 387.33 L673.77 385.87 L673.77 396.10 M686.05 387.33 L685.55 386.36 L684.08 385.87 L683.10 385.87 L681.63 386.36 L680.64 387.82 L680.15 390.26 L680.15 392.69 L680.64 394.64 L681.63 395.61 L683.10 396.10 L683.59 396.10 L685.06 395.61 L686.05 394.64 L686.54 393.18 L686.54 392.69 L686.05 391.23 L685.06 390.26 L683.59 389.77 L683.10 389.77 L681.63 390.26 L680.64 391.23 L680.15 392.69" fill="none" stroke="#700000" stroke-width="2.12" stroke-linecap="butt" stroke-linejoin="round"/></g>
<line x1="707.95" y1="373.80" x2="707.95" y2="366.80" stroke="#700000" stroke-width="2.65" stroke-linecap="butt"/>
<line x1="707.95" y1="33.25" x2="707.95" y2="40.25" stroke="#700000" stroke-width="2.65" stroke-linecap="butt"/>
<g><title>-14</title><path d="M693.68 391.72 L702.52 391.72 M706.69 387.82 L707.67 387.33 L709.15 385.87 L709.15 396.10 M719.95 385.87 L715.04 392.69 L722.40 392.69 M719.95 385.87 L719.95 396.10" fill="none" stroke="#700000" stroke-width="2.12" stroke-linecap="butt" stroke-linejoin="round"/></g>
<line x1="743.33" y1="373.80" x2="743.33" y2="366.80" stroke="#700000" stroke-width="2.65" stroke-linecap="butt"/>
<line x1="743.33" y1="33.25" x2="743.33" y2="40.25" stroke="#700000" stroke-width="2.65" stroke-linecap="butt"/>
<g><title>-12</title><path d="M729.05 391.72 L737.89 391.72 M742.07 387.82 L743.05 387.33 L744.52 385.87 L744.52 396.10 M750.90 388.31 L750.90 387.82 L751.39 386.85 L751.89 386.36 L752.87 385.87 L754.83 385.87 L755.81 386.36 L756.30 386.85 L756.80 387.82 L756.80 388.80 L756.30 389.77 L755.32 391.23 L750.41 396.10 L757.29 396.10" fill="none" stroke="#700000" stroke-width="2.12" stroke-linecap="butt" stroke-linejoin="round"/></g>
<line x1="778.70" y1="373.80" x2="778.70" y2="366.80" stroke="#700000" stroke-width="2.65" stroke-linecap="butt"/>
<line x1="778.70" y1="33.25" x2="778.70" y2="40.25" stroke="#700000" stroke-width="2.65" stroke-linecap="butt"/>
<g><title>-10</title><path d="M764.43 391.72 L773.27 391.72 M777.44 387.82 L778.42 387.33 L779.90 385.87 L779.90 396.10 M788.73 385.87 L787.26 386.36 L786.28 387.82 L785.79 390.26 L785.79 391.72 L786.28 394.15 L787.26 395.61 L788.73 396.10 L789.72 396.10 L791.19 395.61 L792.17 394.15 L792.66 391.72 L792.66 390.26 L792.17 387.82 L791.19 386.36 L789.72 385.87 L788.73 385.87" fill="none" stroke="#700000" stroke-width="2.12" stroke-linecap="butt" stroke-linejoin="round"/></g>
<line x1="814.08" y1="373.80" x2="814.08" y2="366.80" stroke="#700000" stroke-width="2.65" stroke-linecap="butt"/>
<line x1="814.08" y1="33.25" x2="814.08" y2="40.25" stroke="#700000" stroke-width="2.65" stroke-linecap="butt"/>
<g><title>-8</title><path d="M804.71 391.72 L813.55 391.72 M818.71 385.87 L817.23 386.36 L816.74 387.33 L816.74 388.31 L817.23 389.28 L818.22 389.77 L820.18 390.26 L821.65 390.74 L822.64 391.72 L823.13 392.69 L823.13 394.15 L822.64 395.13 L822.14 395.61 L820.67 396.10 L818.71 396.10 L817.23 395.61 L816.74 395.13 L816.25 394.15 L816.25 392.69 L816.74 391.72 L817.73 390.74 L819.20 390.26 L821.16 389.77 L822.14 389.28 L822.64 388.31 L822.64 387.33 L822.14 386.36 L820.67 385.87 L818.71 385.87" fill="none" stroke="#700000" stroke-width="2.12" stroke-linecap="butt" stroke-linejoin="round"/></g>
<g><title>-6</title><path d="M840.09 391.72 L848.93 391.72 M858.01 387.33 L857.52 386.36 L856.05 385.87 L855.06 385.87 L853.59 386.36 L852.61 387.82 L852.12 390.26 L852.12 392.69 L852.61 394.64 L853.59 395.61 L855.06 396.10 L855.56 396.10 L857.03 395.61 L858.01 394.64 L858.50 393.18 L858.50 392.69 L858.01 391.23 L857.03 390.26 L855.56 389.77 L855.06 389.77 L853.59 390.26 L852.61 391.23 L852.12 392.69" fill="none" stroke="#700000" stroke-width="2.12" stroke-linecap="butt" stroke-linejoin="round"/></g>
<g><title>log. m (g)</title><path d="M704.78 404.97 L704.78 415.20 M710.67 408.38 L709.69 408.87 L708.71 409.84 L708.22 411.30 L708.22 412.28 L708.71 413.74 L709.69 414.71 L710.67 415.20 L712.15 415.20 L713.13 414.71 L714.11 413.74 L714.60 412.28 L714.60 411.30 L714.11 409.84 L713.13 408.87 L712.15 408.38 L710.67 408.38 M723.44 408.38 L723.44 416.17 L722.95 417.63 L722.46 418.12 L721.48 418.61 L720.00 418.61 L719.02 418.12 M723.44 409.84 L722.46 408.87 L721.48 408.38 L720.00 408.38 L719.02 408.87 L718.04 409.84 L717.55 411.30 L717.55 412.28 L718.04 413.74 L719.02 414.71 L720.00 415.20 L721.48 415.20 L722.46 414.71 L723.44 413.74 M727.86 414.23 L727.37 414.71 L727.86 415.20 L728.35 414.71 L727.86 414.23 M740.13 408.38 L740.13 415.20 M740.13 410.33 L741.61 408.87 L742.59 408.38 L744.06 408.38 L745.04 408.87 L745.53 410.33 L745.53 415.20 M745.53 410.33 L747.01 408.87 L747.99 408.38 L749.46 408.38 L750.44 408.87 L750.94 410.33 L750.94 415.20 M766.16 402.54 L765.17 403.51 L764.19 404.97 L763.21 407.16 L762.72 409.84 L762.72 411.79 L763.21 414.47 L764.19 416.66 L765.17 418.12 L766.16 419.10 M774.99 408.38 L774.99 416.17 L774.50 417.63 L774.01 418.12 L773.03 418.61 L771.56 418.61 L770.58 418.12 M774.99 409.84 L774.01 408.87 L773.03 408.38 L771.56 408.38 L770.58 408.87 L769.59 409.84 L769.10 411.30 L769.10 412.28 L769.59 413.74 L770.58 414.71 L771.56 415.20 L773.03 415.20 L774.01 414.71 L774.99 413.74 M778.43 402.54 L779.41 403.51 L780.40 404.97 L781.38 407.16 L781.87 409.84 L781.87 411.79 L781.38 414.47 L780.40 416.66 L779.41 418.12 L778.43 419.10" fill="none" stroke="#700000" stroke-width="2.12" stroke-linecap="butt" stroke-linejoin="round"/></g>
<line x1="637.20" y1="360.18" x2="639.20" y2="360.18" stroke="#700000" stroke-width="2.40" stroke-linecap="butt"/>
<line x1="849.45" y1="360.18" x2="847.45" y2="360.18" stroke="#700000" stroke-width="2.40" stroke-linecap="butt"/>
<line x1="637.20" y1="346.56" x2="639.20" y2="346.56" stroke="#700000" stroke-width="2.40" stroke-linecap="butt"/>
<line x1="849.45" y1="346.56" x2="847.45" y2="346.56" stroke="#700000" stroke-width="2.40" stroke-linecap="butt"/>
<line x1="637.20" y1="332.93" x2="639.20" y2="332.93" stroke="#700000" stroke-width="2.40" stroke-linecap="butt"/>
<line x1="849.45" y1="332.93" x2="847.45" y2="332.93" stroke="#700000" stroke-width="2.40" stroke-linecap="butt"/>
<line x1="637.20" y1="319.31" x2="639.20" y2="319.31" stroke="#700000" stroke-width="2.40" stroke-linecap="butt"/>
<line x1="849.45" y1="319.31" x2="847.45" y2="319.31" stroke="#700000" stroke-width="2.40" stroke-linecap="butt"/>
<line x1="637.20" y1="305.69" x2="641.40" y2="305.69" stroke="#700000" stroke-width="2.40" stroke-linecap="butt"/>
<line x1="849.45" y1="305.69" x2="845.25" y2="305.69" stroke="#700000" stroke-width="2.40" stroke-linecap="butt"/>
<line x1="637.20" y1="292.07" x2="639.20" y2="292.07" stroke="#700000" stroke-width="2.40" stroke-linecap="butt"/>
<line x1="849.45" y1="292.07" x2="847.45" y2="292.07" stroke="#700000" stroke-width="2.40" stroke-linecap="butt"/>
<line x1="637.20" y1="278.45" x2="639.20" y2="278.45" stroke="#700000" stroke-width="2.40" stroke-linecap="butt"/>
<line x1="849.45" y1="278.45" x2="847.45" y2="278.45" stroke="#700000" stroke-width="2.40" stroke-linecap="butt"/>
<line x1="637.20" y1="264.82" x2="639.20" y2="264.82" stroke="#700000" stroke-width="2.40" stroke-linecap="butt"/>
<line x1="849.45" y1="264.82" x2="847.45" y2="264.82" stroke="#700000" stroke-width="2.40" stroke-linecap="butt"/>
<line x1="637.20" y1="251.20" x2="639.20" y2="251.20" stroke="#700000" stroke-width="2.40" stroke-linecap="butt"/>
<line x1="849.45" y1="251.20" x2="847.45" y2="251.20" stroke="#700000" stroke-width="2.40" stroke-linecap="butt"/>
<line x1="637.20" y1="237.58" x2="641.40" y2="237.58" stroke="#700000" stroke-width="2.40" stroke-linecap="butt"/>
<line x1="849.45" y1="237.58" x2="845.25" y2="237.58" stroke="#700000" stroke-width="2.40" stroke-linecap="butt"/>
<line x1="637.20" y1="223.96" x2="639.20" y2="223.96" stroke="#700000" stroke-width="2.40" stroke-linecap="butt"/>
<line x1="849.45" y1="223.96" x2="847.45" y2="223.96" stroke="#700000" stroke-width="2.40" stroke-linecap="butt"/>
<line x1="637.20" y1="210.34" x2="639.20" y2="210.34" stroke="#700000" stroke-width="2.40" stroke-linecap="butt"/>
<line x1="849.45" y1="210.34" x2="847.45" y2="210.34" stroke="#700000" stroke-width="2.40" stroke-linecap="butt"/>
<line x1="637.20" y1="196.71" x2="639.20" y2="196.71" stroke="#700000" stroke-width="2.40" stroke-linecap="butt"/>
<line x1="849.45" y1="196.71" x2="847.45" y2="196.71" stroke="#700000" stroke-width="2.40" stroke-linecap="butt"/>
<line x1="637.20" y1="183.09" x2="639.20" y2="183.09" stroke="#700000" stroke-width="2.40" stroke-linecap="butt"/>
<line x1="849.45" y1="183.09" x2="847.45" y2="183.09" stroke="#700000" stroke-width="2.40" stroke-linecap="butt"/>
<line x1="637.20" y1="169.47" x2="641.40" y2="169.47" stroke="#700000" stroke-width="2.40" stroke-linecap="butt"/>
<line x1="849.45" y1="169.47" x2="845.25" y2="169.47" stroke="#700000" stroke-width="2.40" stroke-linecap="butt"/>
<line x1="637.20" y1="155.85" x2="639.20" y2="155.85" stroke="#700000" stroke-width="2.40" stroke-linecap="butt"/>
<line x1="849.45" y1="155.85" x2="847.45" y2="155.85" stroke="#700000" stroke-width="2.40" stroke-linecap="butt"/>
<line x1="637.20" y1="142.23" x2="639.20" y2="142.23" stroke="#700000" stroke-width="2.40" stroke-linecap="butt"/>
<line x1="849.45" y1="142.23" x2="847.45" y2="142.23" stroke="#700000" stroke-width="2.40" stroke-linecap="butt"/>
<line x1="637.20" y1="128.60" x2="639.20" y2="128.60" stroke="#700000" stroke-width="2.40" stroke-linecap="butt"/>
<line x1="849.45" y1="128.60" x2="847.45" y2="128.60" stroke="#700000" stroke-width="2.40" stroke-linecap="butt"/>
<line x1="637.20" y1="114.98" x2="639.20" y2="114.98" stroke="#700000" stroke-width="2.40" stroke-linecap="butt"/>
<line x1="849.45" y1="114.98" x2="847.45" y2="114.98" stroke="#700000" stroke-width="2.40" stroke-linecap="butt"/>
<line x1="637.20" y1="101.36" x2="641.40" y2="101.36" stroke="#700000" stroke-width="2.40" stroke-linecap="butt"/>
<line x1="849.45" y1="101.36" x2="845.25" y2="101.36" stroke="#700000" stroke-width="2.40" stroke-linecap="butt"/>
<line x1="637.20" y1="87.74" x2="639.20" y2="87.74" stroke="#700000" stroke-width="2.40" stroke-linecap="butt"/>
<line x1="849.45" y1="87.74" x2="847.45" y2="87.74" stroke="#700000" stroke-width="2.40" stroke-linecap="butt"/>
<line x1="637.20" y1="74.12" x2="639.20" y2="74.12" stroke="#700000" stroke-width="2.40" stroke-linecap="butt"/>
<line x1="849.45" y1="74.12" x2="847.45" y2="74.12" stroke="#700000" stroke-width="2.40" stroke-linecap="butt"/>
<line x1="637.20" y1="60.49" x2="639.20" y2="60.49" stroke="#700000" stroke-width="2.40" stroke-linecap="butt"/>
<line x1="849.45" y1="60.49" x2="847.45" y2="60.49" stroke="#700000" stroke-width="2.40" stroke-linecap="butt"/>
<line x1="637.20" y1="46.87" x2="639.20" y2="46.87" stroke="#700000" stroke-width="2.40" stroke-linecap="butt"/>
<line x1="849.45" y1="46.87" x2="847.45" y2="46.87" stroke="#700000" stroke-width="2.40" stroke-linecap="butt"/>
<g><title>25</title><path d="M614.52 35.76 L614.52 35.27 L615.02 34.30 L615.51 33.81 L616.49 33.32 L618.45 33.32 L619.43 33.81 L619.93 34.30 L620.42 35.27 L620.42 36.24 L619.93 37.22 L618.94 38.68 L614.03 43.55 L620.91 43.55 M629.75 33.32 L624.84 33.32 L624.34 37.71 L624.84 37.22 L626.31 36.73 L627.78 36.73 L629.25 37.22 L630.24 38.19 L630.73 39.65 L630.73 40.63 L630.24 42.09 L629.25 43.06 L627.78 43.55 L626.31 43.55 L624.84 43.06 L624.34 42.58 L623.85 41.60" fill="none" stroke="#700000" stroke-width="2.12" stroke-linecap="butt" stroke-linejoin="round"/></g>
<g><title>20</title><path d="M614.52 99.97 L614.52 99.48 L615.02 98.51 L615.51 98.02 L616.49 97.53 L618.45 97.53 L619.43 98.02 L619.93 98.51 L620.42 99.48 L620.42 100.46 L619.93 101.43 L618.94 102.89 L614.03 107.76 L620.91 107.76 M626.80 97.53 L625.33 98.02 L624.34 99.48 L623.85 101.92 L623.85 103.38 L624.34 105.81 L625.33 107.27 L626.80 107.76 L627.78 107.76 L629.25 107.27 L630.24 105.81 L630.73 103.38 L630.73 101.92 L630.24 99.48 L629.25 98.02 L627.78 97.53 L626.80 97.53" fill="none" stroke="#700000" stroke-width="2.12" stroke-linecap="butt" stroke-linejoin="round"/></g>
<g><title>15</title><path d="M615.51 167.59 L616.49 167.10 L617.96 165.64 L617.96 175.87 M629.75 165.64 L624.84 165.64 L624.34 170.03 L624.84 169.54 L626.31 169.05 L627.78 169.05 L629.25 169.54 L630.24 170.51 L630.73 171.97 L630.73 172.95 L630.24 174.41 L629.25 175.38 L627.78 175.87 L626.31 175.87 L624.84 175.38 L624.34 174.90 L623.85 173.92" fill="none" stroke="#700000" stroke-width="2.12" stroke-linecap="butt" stroke-linejoin="round"/></g>
<g><title>10</title><path d="M615.51 235.70 L616.49 235.21 L617.96 233.75 L617.96 243.98 M626.80 233.75 L625.33 234.24 L624.34 235.70 L623.85 238.14 L623.85 239.60 L624.34 242.03 L625.33 243.49 L626.80 243.98 L627.78 243.98 L629.25 243.49 L630.24 242.03 L630.73 239.60 L630.73 238.14 L630.24 235.70 L629.25 234.24 L627.78 233.75 L626.80 233.75" fill="none" stroke="#700000" stroke-width="2.12" stroke-linecap="butt" stroke-linejoin="round"/></g>
<g><title>5</title><path d="M629.75 301.86 L624.84 301.86 L624.34 306.25 L624.84 305.76 L626.31 305.27 L627.78 305.27 L629.25 305.76 L630.24 306.73 L630.73 308.19 L630.73 309.17 L630.24 310.63 L629.25 311.60 L627.78 312.09 L626.31 312.09 L624.84 311.60 L624.34 311.12 L623.85 310.14" fill="none" stroke="#700000" stroke-width="2.12" stroke-linecap="butt" stroke-linejoin="round"/></g>
<g><title>0</title><path d="M626.80 363.57 L625.33 364.06 L624.34 365.52 L623.85 367.96 L623.85 369.42 L624.34 371.85 L625.33 373.31 L626.80 373.80 L627.78 373.80 L629.25 373.31 L630.24 371.85 L630.73 369.42 L630.73 367.96 L630.24 365.52 L629.25 364.06 L627.78 363.57 L626.80 363.57" fill="none" stroke="#700000" stroke-width="2.12" stroke-linecap="butt" stroke-linejoin="round"/></g>
<g><title>mdN/d(logm)[g/cm3]/10-28</title><path d="M591.98 312.03 L598.80 312.03 M593.93 312.03 L592.47 310.56 L591.98 309.59 L591.98 308.13 L592.47 307.15 L593.93 306.66 L598.80 306.66 M593.93 306.66 L592.47 305.20 L591.98 304.23 L591.98 302.76 L592.47 301.79 L593.93 301.30 L598.80 301.30 M588.57 292.04 L598.80 292.04 M593.44 292.04 L592.47 293.01 L591.98 293.99 L591.98 295.45 L592.47 296.43 L593.44 297.40 L594.90 297.89 L595.88 297.89 L597.34 297.40 L598.31 296.43 L598.80 295.45 L598.80 293.99 L598.31 293.01 L597.34 292.04 M588.57 288.14 L598.80 288.14 M588.57 288.14 L598.80 281.31 M588.57 281.31 L598.80 281.31 M586.62 269.61 L602.21 278.39 M588.57 261.33 L598.80 261.33 M593.44 261.33 L592.47 262.30 L591.98 263.28 L591.98 264.74 L592.47 265.71 L593.44 266.69 L594.90 267.18 L595.88 267.18 L597.34 266.69 L598.31 265.71 L598.80 264.74 L598.80 263.28 L598.31 262.30 L597.34 261.33 M586.14 254.01 L587.11 254.99 L588.57 255.96 L590.76 256.94 L593.44 257.43 L595.39 257.43 L598.07 256.94 L600.26 255.96 L601.72 254.99 L602.70 254.01 M588.57 250.60 L598.80 250.60 M591.98 244.75 L592.47 245.73 L593.44 246.70 L594.90 247.19 L595.88 247.19 L597.34 246.70 L598.31 245.73 L598.80 244.75 L598.80 243.29 L598.31 242.31 L597.34 241.34 L595.88 240.85 L594.90 240.85 L593.44 241.34 L592.47 242.31 L591.98 243.29 L591.98 244.75 M591.98 232.08 L599.77 232.08 L601.23 232.56 L601.72 233.05 L602.21 234.03 L602.21 235.49 L601.72 236.46 M593.44 232.08 L592.47 233.05 L591.98 234.03 L591.98 235.49 L592.47 236.46 L593.44 237.44 L594.90 237.93 L595.88 237.93 L597.34 237.44 L598.31 236.46 L598.80 235.49 L598.80 234.03 L598.31 233.05 L597.34 232.08 M591.98 228.18 L598.80 228.18 M593.93 228.18 L592.47 226.71 L591.98 225.74 L591.98 224.28 L592.47 223.30 L593.93 222.81 L598.80 222.81 M593.93 222.81 L592.47 221.35 L591.98 220.38 L591.98 218.91 L592.47 217.94 L593.93 217.45 L598.80 217.45 M586.14 214.04 L587.11 213.06 L588.57 212.09 L590.76 211.11 L593.44 210.63 L595.39 210.63 L598.07 211.11 L600.26 212.09 L601.72 213.06 L602.70 214.04 M586.38 206.73 L602.70 206.73 M586.38 206.24 L602.70 206.24 M586.38 206.73 L586.38 203.31 M602.70 206.73 L602.70 203.31 M591.98 194.54 L599.77 194.54 L601.23 195.03 L601.72 195.51 L602.21 196.49 L602.21 197.95 L601.72 198.93 M593.44 194.54 L592.47 195.51 L591.98 196.49 L591.98 197.95 L592.47 198.93 L593.44 199.90 L594.90 200.39 L595.88 200.39 L597.34 199.90 L598.31 198.93 L598.80 197.95 L598.80 196.49 L598.31 195.51 L597.34 194.54 M586.62 182.84 L602.21 191.61 M593.44 174.55 L592.47 175.53 L591.98 176.50 L591.98 177.96 L592.47 178.94 L593.44 179.91 L594.90 180.40 L595.88 180.40 L597.34 179.91 L598.31 178.94 L598.80 177.96 L598.80 176.50 L598.31 175.53 L597.34 174.55 M591.98 171.14 L598.80 171.14 M593.93 171.14 L592.47 169.68 L591.98 168.70 L591.98 167.24 L592.47 166.26 L593.93 165.78 L598.80 165.78 M593.93 165.78 L592.47 164.31 L591.98 163.34 L591.98 161.88 L592.47 160.90 L593.93 160.41 L598.80 160.41 M585.40 156.95 L585.40 153.63 L587.81 155.44 L587.81 154.53 L588.12 153.93 L588.42 153.63 L589.32 153.33 L589.93 153.33 L590.83 153.63 L591.44 154.23 L591.74 155.14 L591.74 156.05 L591.44 156.95 L591.13 157.25 L590.53 157.56 M586.38 148.03 L602.70 148.03 M586.38 147.54 L602.70 147.54 M586.38 150.96 L586.38 147.54 M602.70 150.96 L602.70 147.54 M586.62 135.84 L602.21 144.62 M590.52 131.94 L590.03 130.97 L588.57 129.51 L598.80 129.51 M588.57 120.73 L589.06 122.19 L590.52 123.17 L592.96 123.66 L594.42 123.66 L596.85 123.17 L598.31 122.19 L598.80 120.73 L598.80 119.76 L598.31 118.29 L596.85 117.32 L594.42 116.83 L592.96 116.83 L590.52 117.32 L589.06 118.29 L588.57 119.76 L588.57 120.73 M589.02 114.16 L589.02 108.72 M586.91 106.75 L586.61 106.75 L586.00 106.45 L585.70 106.15 L585.40 105.55 L585.40 104.34 L585.70 103.73 L586.00 103.43 L586.61 103.13 L587.21 103.13 L587.81 103.43 L588.72 104.03 L591.74 107.06 L591.74 102.83 M585.40 99.50 L585.70 100.41 L586.30 100.71 L586.91 100.71 L587.51 100.41 L587.81 99.80 L588.12 98.59 L588.42 97.69 L589.02 97.08 L589.62 96.78 L590.53 96.78 L591.13 97.08 L591.44 97.38 L591.74 98.29 L591.74 99.50 L591.44 100.41 L591.13 100.71 L590.53 101.01 L589.62 101.01 L589.02 100.71 L588.42 100.11 L588.12 99.20 L587.81 97.99 L587.51 97.38 L586.91 97.08 L586.30 97.08 L585.70 97.38 L585.40 98.29 L585.40 99.50" fill="none" stroke="#700000" stroke-width="2.12" stroke-linecap="butt" stroke-linejoin="round"/></g>
<g><title>MRN</title><path d="M664.97 307.53 L664.97 319.60 M664.97 307.53 L669.50 319.60 M674.04 307.53 L669.50 319.60 M674.04 307.53 L674.04 319.60 M678.58 307.53 L678.58 319.60 M678.58 307.53 L683.68 307.53 L685.38 308.10 L685.95 308.68 L686.51 309.83 L686.51 310.98 L685.95 312.12 L685.38 312.70 L683.68 313.28 L678.58 313.28 M682.55 313.28 L686.51 319.60 M690.48 307.53 L690.48 319.60 M690.48 307.53 L698.42 319.60 M698.42 307.53 L698.42 319.60" fill="none" stroke="#ff7400" stroke-width="1.85" stroke-linecap="butt" stroke-linejoin="round"/></g>
</svg>
</body>
</html>
